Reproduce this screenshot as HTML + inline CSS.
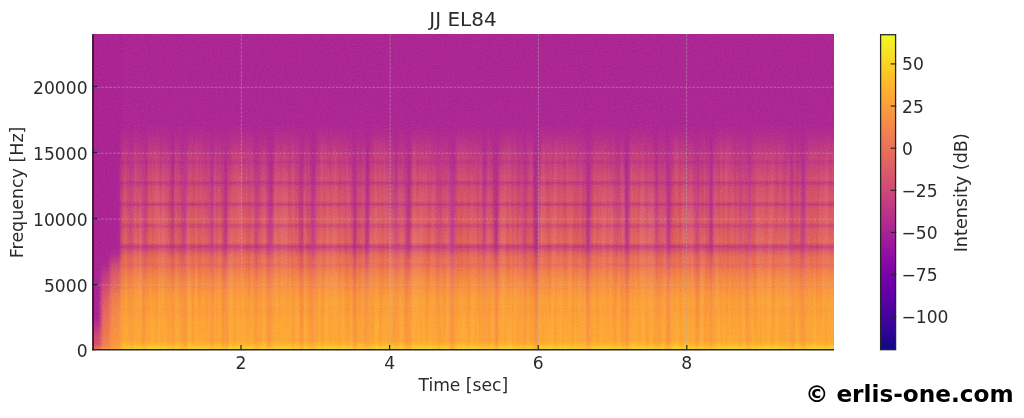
<!DOCTYPE html>
<html lang="en"><head><meta charset="utf-8"><title>JJ EL84</title>
<style>html,body{margin:0;padding:0;background:#fff}body{width:1024px;height:418px;position:relative;overflow:hidden}</style></head>
<body>
<svg width="1024" height="418" viewBox="0 0 1024 418" style="position:absolute;left:0;top:0;font-family:'DejaVu Sans','Liberation Sans',sans-serif">
<defs><linearGradient id="g0" x1="0" y1="0" x2="0" y2="1"><stop offset="0.001582" stop-color="#ab2494"/><stop offset="0.894" stop-color="#ab2494"/><stop offset="0.9256" stop-color="#ba3388"/><stop offset="0.932" stop-color="#bf3984"/><stop offset="0.9383" stop-color="#c13b82"/><stop offset="0.9446" stop-color="#c6417d"/><stop offset="0.9509" stop-color="#c9447a"/><stop offset="0.9573" stop-color="#cd4a76"/><stop offset="0.9636" stop-color="#d04d73"/><stop offset="0.9699" stop-color="#d04d73"/><stop offset="0.9826" stop-color="#d5536f"/><stop offset="0.9953" stop-color="#e87059"/><stop offset="0.9984" stop-color="#ed7a52"/></linearGradient><linearGradient id="g1" x1="0" y1="0" x2="0" y2="1"><stop offset="0.001582" stop-color="#ab2494"/><stop offset="0.894" stop-color="#ab2494"/><stop offset="0.9256" stop-color="#ba3388"/><stop offset="0.932" stop-color="#bf3984"/><stop offset="0.9383" stop-color="#c13b82"/><stop offset="0.9446" stop-color="#c6417d"/><stop offset="0.9509" stop-color="#c9447a"/><stop offset="0.9573" stop-color="#cd4a76"/><stop offset="0.9636" stop-color="#d04d73"/><stop offset="0.9699" stop-color="#d04d73"/><stop offset="0.9826" stop-color="#d5536f"/><stop offset="0.9953" stop-color="#e87059"/><stop offset="0.9984" stop-color="#ed7a52"/></linearGradient><linearGradient id="g2" x1="0" y1="0" x2="0" y2="1"><stop offset="0.001582" stop-color="#ab2494"/><stop offset="0.8877" stop-color="#ab2494"/><stop offset="0.894" stop-color="#ad2793"/><stop offset="0.9003" stop-color="#ad2793"/><stop offset="0.9193" stop-color="#b6308b"/><stop offset="0.9256" stop-color="#bc3587"/><stop offset="0.932" stop-color="#bf3984"/><stop offset="0.9383" stop-color="#c43e7f"/><stop offset="0.9446" stop-color="#c6417d"/><stop offset="0.9509" stop-color="#cc4778"/><stop offset="0.9699" stop-color="#d24f71"/><stop offset="0.9763" stop-color="#d24f71"/><stop offset="0.9826" stop-color="#d5536f"/><stop offset="0.9953" stop-color="#e87059"/><stop offset="0.9984" stop-color="#ed7a52"/></linearGradient><linearGradient id="g3" x1="0" y1="0" x2="0" y2="1"><stop offset="0.001582" stop-color="#ab2494"/><stop offset="0.7674" stop-color="#ab2494"/><stop offset="0.7737" stop-color="#ad2793"/><stop offset="0.8877" stop-color="#ad2793"/><stop offset="0.894" stop-color="#b12a90"/><stop offset="0.9003" stop-color="#b12a90"/><stop offset="0.9193" stop-color="#ba3388"/><stop offset="0.9256" stop-color="#bf3984"/><stop offset="0.9383" stop-color="#c43e7f"/><stop offset="0.9446" stop-color="#c9447a"/><stop offset="0.9509" stop-color="#cc4778"/><stop offset="0.9573" stop-color="#d04d73"/><stop offset="0.9636" stop-color="#d24f71"/><stop offset="0.9699" stop-color="#d24f71"/><stop offset="0.9826" stop-color="#d6556d"/><stop offset="0.9889" stop-color="#df6263"/><stop offset="0.9984" stop-color="#ef7e50"/></linearGradient><linearGradient id="g4" x1="0" y1="0" x2="0" y2="1"><stop offset="0.001582" stop-color="#ab2494"/><stop offset="0.7358" stop-color="#ab2494"/><stop offset="0.7421" stop-color="#ad2793"/><stop offset="0.7674" stop-color="#ad2793"/><stop offset="0.7737" stop-color="#b12a90"/><stop offset="0.8054" stop-color="#b12a90"/><stop offset="0.8117" stop-color="#b32c8e"/><stop offset="0.8434" stop-color="#b32c8e"/><stop offset="0.8497" stop-color="#b6308b"/><stop offset="0.8877" stop-color="#b6308b"/><stop offset="0.894" stop-color="#ba3388"/><stop offset="0.9003" stop-color="#ba3388"/><stop offset="0.932" stop-color="#c6417d"/><stop offset="0.9383" stop-color="#cc4778"/><stop offset="0.9509" stop-color="#d04d73"/><stop offset="0.9573" stop-color="#d5536f"/><stop offset="0.9636" stop-color="#d5536f"/><stop offset="0.9826" stop-color="#da5b69"/><stop offset="0.9889" stop-color="#e3685f"/><stop offset="0.9984" stop-color="#f0804e"/></linearGradient><linearGradient id="g5" x1="0" y1="0" x2="0" y2="1"><stop offset="0.001582" stop-color="#ab2494"/><stop offset="0.7231" stop-color="#ab2494"/><stop offset="0.7294" stop-color="#ad2793"/><stop offset="0.7421" stop-color="#ad2793"/><stop offset="0.7484" stop-color="#b12a90"/><stop offset="0.7547" stop-color="#b12a90"/><stop offset="0.7611" stop-color="#b32c8e"/><stop offset="0.7737" stop-color="#b32c8e"/><stop offset="0.7801" stop-color="#b6308b"/><stop offset="0.7864" stop-color="#b6308b"/><stop offset="0.7927" stop-color="#ba3388"/><stop offset="0.8054" stop-color="#ba3388"/><stop offset="0.8117" stop-color="#bc3587"/><stop offset="0.818" stop-color="#bc3587"/><stop offset="0.8244" stop-color="#bf3984"/><stop offset="0.837" stop-color="#bf3984"/><stop offset="0.8434" stop-color="#c13b82"/><stop offset="0.8687" stop-color="#c13b82"/><stop offset="0.875" stop-color="#c43e7f"/><stop offset="0.8877" stop-color="#c43e7f"/><stop offset="0.894" stop-color="#c6417d"/><stop offset="0.9003" stop-color="#c6417d"/><stop offset="0.9066" stop-color="#c9447a"/><stop offset="0.913" stop-color="#c9447a"/><stop offset="0.9256" stop-color="#cd4a76"/><stop offset="0.932" stop-color="#d24f71"/><stop offset="0.9636" stop-color="#dd5e66"/><stop offset="0.9699" stop-color="#dd5e66"/><stop offset="0.9826" stop-color="#e16462"/><stop offset="0.9889" stop-color="#e76e5b"/><stop offset="0.9984" stop-color="#f2844b"/></linearGradient><linearGradient id="g6" x1="0" y1="0" x2="0" y2="1"><stop offset="0.001582" stop-color="#ab2494"/><stop offset="0.7168" stop-color="#ab2494"/><stop offset="0.7231" stop-color="#ad2793"/><stop offset="0.7294" stop-color="#ad2793"/><stop offset="0.7358" stop-color="#b12a90"/><stop offset="0.7421" stop-color="#b12a90"/><stop offset="0.7547" stop-color="#b6308b"/><stop offset="0.7611" stop-color="#b6308b"/><stop offset="0.7737" stop-color="#bc3587"/><stop offset="0.7801" stop-color="#bc3587"/><stop offset="0.7927" stop-color="#c13b82"/><stop offset="0.7991" stop-color="#c13b82"/><stop offset="0.8117" stop-color="#c6417d"/><stop offset="0.818" stop-color="#c6417d"/><stop offset="0.8307" stop-color="#cc4778"/><stop offset="0.837" stop-color="#cc4778"/><stop offset="0.8434" stop-color="#cd4a76"/><stop offset="0.856" stop-color="#cd4a76"/><stop offset="0.8623" stop-color="#d04d73"/><stop offset="0.875" stop-color="#d04d73"/><stop offset="0.8813" stop-color="#d24f71"/><stop offset="0.8877" stop-color="#d24f71"/><stop offset="0.894" stop-color="#d5536f"/><stop offset="0.9003" stop-color="#d5536f"/><stop offset="0.9066" stop-color="#d6556d"/><stop offset="0.913" stop-color="#d6556d"/><stop offset="0.932" stop-color="#dd5e66"/><stop offset="0.9383" stop-color="#dd5e66"/><stop offset="0.9636" stop-color="#e56a5d"/><stop offset="0.9699" stop-color="#e56a5d"/><stop offset="0.9826" stop-color="#e87059"/><stop offset="0.9889" stop-color="#eb7655"/><stop offset="0.9984" stop-color="#f58b47"/></linearGradient><linearGradient id="g7" x1="0" y1="0" x2="0" y2="1"><stop offset="0.001582" stop-color="#ab2494"/><stop offset="0.7168" stop-color="#ab2494"/><stop offset="0.7231" stop-color="#ad2793"/><stop offset="0.7294" stop-color="#ad2793"/><stop offset="0.7674" stop-color="#bf3984"/><stop offset="0.7737" stop-color="#c13b82"/><stop offset="0.7801" stop-color="#c13b82"/><stop offset="0.818" stop-color="#d04d73"/><stop offset="0.8244" stop-color="#d24f71"/><stop offset="0.8307" stop-color="#d24f71"/><stop offset="0.8434" stop-color="#d6556d"/><stop offset="0.8497" stop-color="#d6556d"/><stop offset="0.856" stop-color="#d9586a"/><stop offset="0.8623" stop-color="#d9586a"/><stop offset="0.8687" stop-color="#da5b69"/><stop offset="0.875" stop-color="#da5b69"/><stop offset="0.8813" stop-color="#dd5e66"/><stop offset="0.8877" stop-color="#dd5e66"/><stop offset="0.894" stop-color="#df6263"/><stop offset="0.9003" stop-color="#df6263"/><stop offset="0.9066" stop-color="#e16462"/><stop offset="0.913" stop-color="#e16462"/><stop offset="0.9193" stop-color="#e3685f"/><stop offset="0.9256" stop-color="#e3685f"/><stop offset="0.932" stop-color="#e56a5d"/><stop offset="0.9383" stop-color="#e56a5d"/><stop offset="0.9509" stop-color="#e87059"/><stop offset="0.9573" stop-color="#e87059"/><stop offset="0.9699" stop-color="#eb7655"/><stop offset="0.9763" stop-color="#eb7655"/><stop offset="0.9826" stop-color="#ed7a52"/><stop offset="0.9889" stop-color="#f0804e"/><stop offset="0.9984" stop-color="#f79143"/></linearGradient><linearGradient id="g8" x1="0" y1="0" x2="0" y2="1"><stop offset="0.001582" stop-color="#ab2494"/><stop offset="0.7104" stop-color="#ab2494"/><stop offset="0.7168" stop-color="#ad2793"/><stop offset="0.7231" stop-color="#ad2793"/><stop offset="0.7611" stop-color="#bf3984"/><stop offset="0.7991" stop-color="#cd4a76"/><stop offset="0.8307" stop-color="#d9586a"/><stop offset="0.837" stop-color="#d9586a"/><stop offset="0.8434" stop-color="#da5b69"/><stop offset="0.8497" stop-color="#da5b69"/><stop offset="0.8623" stop-color="#df6263"/><stop offset="0.8687" stop-color="#df6263"/><stop offset="0.875" stop-color="#e16462"/><stop offset="0.8813" stop-color="#e16462"/><stop offset="0.894" stop-color="#e56a5d"/><stop offset="0.9066" stop-color="#e56a5d"/><stop offset="0.913" stop-color="#e76e5b"/><stop offset="0.9193" stop-color="#e76e5b"/><stop offset="0.9256" stop-color="#e87059"/><stop offset="0.932" stop-color="#e87059"/><stop offset="0.9383" stop-color="#ea7457"/><stop offset="0.9446" stop-color="#ea7457"/><stop offset="0.9509" stop-color="#eb7655"/><stop offset="0.9573" stop-color="#eb7655"/><stop offset="0.9636" stop-color="#ed7a52"/><stop offset="0.9699" stop-color="#ed7a52"/><stop offset="0.9889" stop-color="#f2844b"/><stop offset="0.9984" stop-color="#f89540"/></linearGradient><linearGradient id="g9" x1="0" y1="0" x2="0" y2="1"><stop offset="0.001582" stop-color="#ab2494"/><stop offset="0.7104" stop-color="#ab2494"/><stop offset="0.7168" stop-color="#ad2793"/><stop offset="0.7231" stop-color="#ad2793"/><stop offset="0.7611" stop-color="#bf3984"/><stop offset="0.7991" stop-color="#cd4a76"/><stop offset="0.837" stop-color="#da5b69"/><stop offset="0.8434" stop-color="#dd5e66"/><stop offset="0.8497" stop-color="#dd5e66"/><stop offset="0.8623" stop-color="#e16462"/><stop offset="0.8687" stop-color="#e16462"/><stop offset="0.875" stop-color="#e3685f"/><stop offset="0.8813" stop-color="#e3685f"/><stop offset="0.894" stop-color="#e76e5b"/><stop offset="0.9066" stop-color="#e76e5b"/><stop offset="0.913" stop-color="#e87059"/><stop offset="0.9193" stop-color="#e87059"/><stop offset="0.9256" stop-color="#ea7457"/><stop offset="0.932" stop-color="#ea7457"/><stop offset="0.9383" stop-color="#eb7655"/><stop offset="0.9509" stop-color="#eb7655"/><stop offset="0.9573" stop-color="#ed7a52"/><stop offset="0.9636" stop-color="#ed7a52"/><stop offset="0.9763" stop-color="#f0804e"/><stop offset="0.9826" stop-color="#f0804e"/><stop offset="0.9889" stop-color="#f3874a"/><stop offset="0.9984" stop-color="#f89540"/></linearGradient><linearGradient id="g10" x1="0" y1="0" x2="0" y2="1"><stop offset="0.001582" stop-color="#ab2494"/><stop offset="0.7104" stop-color="#ab2494"/><stop offset="0.7168" stop-color="#ad2793"/><stop offset="0.7231" stop-color="#ad2793"/><stop offset="0.7611" stop-color="#bf3984"/><stop offset="0.7991" stop-color="#cd4a76"/><stop offset="0.8117" stop-color="#d24f71"/><stop offset="0.818" stop-color="#d6556d"/><stop offset="0.8307" stop-color="#da5b69"/><stop offset="0.837" stop-color="#da5b69"/><stop offset="0.8497" stop-color="#df6263"/><stop offset="0.856" stop-color="#df6263"/><stop offset="0.8623" stop-color="#e16462"/><stop offset="0.8687" stop-color="#e16462"/><stop offset="0.8813" stop-color="#e56a5d"/><stop offset="0.8877" stop-color="#e56a5d"/><stop offset="0.894" stop-color="#e76e5b"/><stop offset="0.9003" stop-color="#e76e5b"/><stop offset="0.9066" stop-color="#e87059"/><stop offset="0.913" stop-color="#e87059"/><stop offset="0.9193" stop-color="#ea7457"/><stop offset="0.932" stop-color="#ea7457"/><stop offset="0.9383" stop-color="#eb7655"/><stop offset="0.9446" stop-color="#eb7655"/><stop offset="0.9509" stop-color="#ed7a52"/><stop offset="0.9573" stop-color="#ed7a52"/><stop offset="0.9636" stop-color="#ef7e50"/><stop offset="0.9699" stop-color="#ef7e50"/><stop offset="0.9889" stop-color="#f3874a"/><stop offset="0.9984" stop-color="#f9983e"/></linearGradient><linearGradient id="g11" x1="0" y1="0" x2="0" y2="1"><stop offset="0.001582" stop-color="#ab2494"/><stop offset="0.7104" stop-color="#ab2494"/><stop offset="0.7168" stop-color="#ad2793"/><stop offset="0.7231" stop-color="#ad2793"/><stop offset="0.7611" stop-color="#bf3984"/><stop offset="0.7991" stop-color="#cd4a76"/><stop offset="0.8054" stop-color="#d24f71"/><stop offset="0.837" stop-color="#dd5e66"/><stop offset="0.8434" stop-color="#dd5e66"/><stop offset="0.8497" stop-color="#df6263"/><stop offset="0.856" stop-color="#df6263"/><stop offset="0.8687" stop-color="#e3685f"/><stop offset="0.875" stop-color="#e3685f"/><stop offset="0.8813" stop-color="#e56a5d"/><stop offset="0.8877" stop-color="#e56a5d"/><stop offset="0.894" stop-color="#e76e5b"/><stop offset="0.9003" stop-color="#e76e5b"/><stop offset="0.9066" stop-color="#e87059"/><stop offset="0.913" stop-color="#e87059"/><stop offset="0.9193" stop-color="#ea7457"/><stop offset="0.932" stop-color="#ea7457"/><stop offset="0.9383" stop-color="#eb7655"/><stop offset="0.9446" stop-color="#eb7655"/><stop offset="0.9509" stop-color="#ed7a52"/><stop offset="0.9573" stop-color="#ed7a52"/><stop offset="0.9636" stop-color="#ef7e50"/><stop offset="0.9699" stop-color="#ef7e50"/><stop offset="0.9889" stop-color="#f3874a"/><stop offset="0.9984" stop-color="#f9983e"/></linearGradient><linearGradient id="g12" x1="0" y1="0" x2="0" y2="1"><stop offset="0.001582" stop-color="#ab2494"/><stop offset="0.7041" stop-color="#ab2494"/><stop offset="0.7104" stop-color="#ad2793"/><stop offset="0.7231" stop-color="#ad2793"/><stop offset="0.7421" stop-color="#b6308b"/><stop offset="0.7484" stop-color="#bc3587"/><stop offset="0.7864" stop-color="#cc4778"/><stop offset="0.8244" stop-color="#d9586a"/><stop offset="0.8434" stop-color="#df6263"/><stop offset="0.8497" stop-color="#df6263"/><stop offset="0.856" stop-color="#e16462"/><stop offset="0.8623" stop-color="#e16462"/><stop offset="0.875" stop-color="#e56a5d"/><stop offset="0.8813" stop-color="#e56a5d"/><stop offset="0.8877" stop-color="#e76e5b"/><stop offset="0.894" stop-color="#e76e5b"/><stop offset="0.9003" stop-color="#e87059"/><stop offset="0.9066" stop-color="#e87059"/><stop offset="0.913" stop-color="#ea7457"/><stop offset="0.9256" stop-color="#ea7457"/><stop offset="0.932" stop-color="#eb7655"/><stop offset="0.9383" stop-color="#eb7655"/><stop offset="0.9446" stop-color="#ed7a52"/><stop offset="0.9573" stop-color="#ed7a52"/><stop offset="0.9699" stop-color="#f0804e"/><stop offset="0.9763" stop-color="#f0804e"/><stop offset="0.9889" stop-color="#f3874a"/><stop offset="0.9984" stop-color="#f9983e"/></linearGradient><linearGradient id="g13" x1="0" y1="0" x2="0" y2="1"><stop offset="0.001582" stop-color="#ab2494"/><stop offset="0.6978" stop-color="#ab2494"/><stop offset="0.7041" stop-color="#ad2793"/><stop offset="0.7104" stop-color="#ad2793"/><stop offset="0.7484" stop-color="#bf3984"/><stop offset="0.7864" stop-color="#cd4a76"/><stop offset="0.8244" stop-color="#da5b69"/><stop offset="0.8307" stop-color="#df6263"/><stop offset="0.837" stop-color="#df6263"/><stop offset="0.8434" stop-color="#e16462"/><stop offset="0.8497" stop-color="#e16462"/><stop offset="0.8623" stop-color="#e56a5d"/><stop offset="0.8687" stop-color="#e56a5d"/><stop offset="0.875" stop-color="#e76e5b"/><stop offset="0.8813" stop-color="#e76e5b"/><stop offset="0.8877" stop-color="#e87059"/><stop offset="0.894" stop-color="#e87059"/><stop offset="0.9003" stop-color="#ea7457"/><stop offset="0.9066" stop-color="#ea7457"/><stop offset="0.913" stop-color="#eb7655"/><stop offset="0.9256" stop-color="#eb7655"/><stop offset="0.932" stop-color="#ed7a52"/><stop offset="0.9446" stop-color="#ed7a52"/><stop offset="0.9509" stop-color="#ef7e50"/><stop offset="0.9573" stop-color="#ef7e50"/><stop offset="0.9636" stop-color="#f0804e"/><stop offset="0.9699" stop-color="#f0804e"/><stop offset="0.9889" stop-color="#f58b47"/><stop offset="0.9984" stop-color="#f9983e"/></linearGradient><linearGradient id="g14" x1="0" y1="0" x2="0" y2="1"><stop offset="0.001582" stop-color="#ab2494"/><stop offset="0.6915" stop-color="#ab2494"/><stop offset="0.7294" stop-color="#bc3587"/><stop offset="0.7421" stop-color="#c13b82"/><stop offset="0.7484" stop-color="#c6417d"/><stop offset="0.7737" stop-color="#d04d73"/><stop offset="0.7801" stop-color="#d04d73"/><stop offset="0.7991" stop-color="#d6556d"/><stop offset="0.8054" stop-color="#da5b69"/><stop offset="0.8307" stop-color="#e3685f"/><stop offset="0.837" stop-color="#e3685f"/><stop offset="0.8497" stop-color="#e76e5b"/><stop offset="0.856" stop-color="#e76e5b"/><stop offset="0.8623" stop-color="#e87059"/><stop offset="0.8687" stop-color="#e87059"/><stop offset="0.875" stop-color="#ea7457"/><stop offset="0.8813" stop-color="#ea7457"/><stop offset="0.8877" stop-color="#eb7655"/><stop offset="0.894" stop-color="#eb7655"/><stop offset="0.9003" stop-color="#ed7a52"/><stop offset="0.913" stop-color="#ed7a52"/><stop offset="0.9193" stop-color="#ef7e50"/><stop offset="0.932" stop-color="#ef7e50"/><stop offset="0.9383" stop-color="#f0804e"/><stop offset="0.9509" stop-color="#f0804e"/><stop offset="0.9573" stop-color="#f2844b"/><stop offset="0.9636" stop-color="#f2844b"/><stop offset="0.9699" stop-color="#f3874a"/><stop offset="0.9763" stop-color="#f3874a"/><stop offset="0.9889" stop-color="#f68d45"/><stop offset="0.9984" stop-color="#fa9c3c"/></linearGradient><linearGradient id="g15" x1="0" y1="0" x2="0" y2="1"><stop offset="0.001582" stop-color="#ab2494"/><stop offset="0.6788" stop-color="#ab2494"/><stop offset="0.6851" stop-color="#ad2793"/><stop offset="0.6915" stop-color="#ad2793"/><stop offset="0.7104" stop-color="#b6308b"/><stop offset="0.7168" stop-color="#bc3587"/><stop offset="0.7231" stop-color="#bf3984"/><stop offset="0.7294" stop-color="#c43e7f"/><stop offset="0.7421" stop-color="#c9447a"/><stop offset="0.7484" stop-color="#cd4a76"/><stop offset="0.7674" stop-color="#d5536f"/><stop offset="0.7737" stop-color="#d5536f"/><stop offset="0.8117" stop-color="#e16462"/><stop offset="0.8244" stop-color="#e56a5d"/><stop offset="0.8307" stop-color="#e87059"/><stop offset="0.837" stop-color="#e87059"/><stop offset="0.8434" stop-color="#ea7457"/><stop offset="0.8497" stop-color="#ea7457"/><stop offset="0.856" stop-color="#eb7655"/><stop offset="0.8623" stop-color="#eb7655"/><stop offset="0.8687" stop-color="#ed7a52"/><stop offset="0.8813" stop-color="#ed7a52"/><stop offset="0.8877" stop-color="#ef7e50"/><stop offset="0.894" stop-color="#ef7e50"/><stop offset="0.9003" stop-color="#f0804e"/><stop offset="0.9066" stop-color="#f0804e"/><stop offset="0.913" stop-color="#f2844b"/><stop offset="0.932" stop-color="#f2844b"/><stop offset="0.9383" stop-color="#f3874a"/><stop offset="0.9509" stop-color="#f3874a"/><stop offset="0.9573" stop-color="#f58b47"/><stop offset="0.9699" stop-color="#f58b47"/><stop offset="0.9889" stop-color="#f89540"/><stop offset="0.9984" stop-color="#fb9f3a"/></linearGradient><linearGradient id="g16" x1="0" y1="0" x2="0" y2="1"><stop offset="0.001582" stop-color="#ab2494"/><stop offset="0.6788" stop-color="#ab2494"/><stop offset="0.6851" stop-color="#ad2793"/><stop offset="0.6915" stop-color="#ad2793"/><stop offset="0.6978" stop-color="#b12a90"/><stop offset="0.7168" stop-color="#c13b82"/><stop offset="0.7231" stop-color="#c43e7f"/><stop offset="0.7294" stop-color="#c9447a"/><stop offset="0.7358" stop-color="#cc4778"/><stop offset="0.7484" stop-color="#d5536f"/><stop offset="0.7547" stop-color="#d5536f"/><stop offset="0.7864" stop-color="#df6263"/><stop offset="0.7927" stop-color="#df6263"/><stop offset="0.7991" stop-color="#e16462"/><stop offset="0.8054" stop-color="#e56a5d"/><stop offset="0.8307" stop-color="#eb7655"/><stop offset="0.837" stop-color="#eb7655"/><stop offset="0.8434" stop-color="#ed7a52"/><stop offset="0.8497" stop-color="#ed7a52"/><stop offset="0.856" stop-color="#ef7e50"/><stop offset="0.8623" stop-color="#ef7e50"/><stop offset="0.8687" stop-color="#f0804e"/><stop offset="0.8813" stop-color="#f0804e"/><stop offset="0.8877" stop-color="#f2844b"/><stop offset="0.894" stop-color="#f2844b"/><stop offset="0.9003" stop-color="#f3874a"/><stop offset="0.913" stop-color="#f3874a"/><stop offset="0.9193" stop-color="#f58b47"/><stop offset="0.9383" stop-color="#f58b47"/><stop offset="0.9446" stop-color="#f68d45"/><stop offset="0.9636" stop-color="#f68d45"/><stop offset="0.9699" stop-color="#f79143"/><stop offset="0.9763" stop-color="#f79143"/><stop offset="0.9889" stop-color="#f9983e"/><stop offset="0.9984" stop-color="#fca338"/></linearGradient><linearGradient id="g17" x1="0" y1="0" x2="0" y2="1"><stop offset="0.001582" stop-color="#ab2494"/><stop offset="0.6725" stop-color="#ab2494"/><stop offset="0.6788" stop-color="#ad2793"/><stop offset="0.6851" stop-color="#ad2793"/><stop offset="0.6978" stop-color="#b32c8e"/><stop offset="0.7168" stop-color="#c43e7f"/><stop offset="0.7231" stop-color="#c6417d"/><stop offset="0.7358" stop-color="#d04d73"/><stop offset="0.7421" stop-color="#d24f71"/><stop offset="0.7484" stop-color="#d6556d"/><stop offset="0.7611" stop-color="#da5b69"/><stop offset="0.7674" stop-color="#da5b69"/><stop offset="0.8054" stop-color="#e76e5b"/><stop offset="0.837" stop-color="#ef7e50"/><stop offset="0.8497" stop-color="#ef7e50"/><stop offset="0.856" stop-color="#f0804e"/><stop offset="0.8623" stop-color="#f0804e"/><stop offset="0.8687" stop-color="#f2844b"/><stop offset="0.8813" stop-color="#f2844b"/><stop offset="0.8877" stop-color="#f3874a"/><stop offset="0.894" stop-color="#f3874a"/><stop offset="0.9003" stop-color="#f58b47"/><stop offset="0.913" stop-color="#f58b47"/><stop offset="0.9193" stop-color="#f68d45"/><stop offset="0.9446" stop-color="#f68d45"/><stop offset="0.9509" stop-color="#f79143"/><stop offset="0.9699" stop-color="#f79143"/><stop offset="0.9889" stop-color="#fa9c3c"/><stop offset="0.9984" stop-color="#fca636"/></linearGradient><linearGradient id="g18" x1="0" y1="0" x2="0" y2="1"><stop offset="0.001582" stop-color="#ab2494"/><stop offset="0.6725" stop-color="#ab2494"/><stop offset="0.6788" stop-color="#ad2793"/><stop offset="0.6851" stop-color="#ad2793"/><stop offset="0.6978" stop-color="#b32c8e"/><stop offset="0.7231" stop-color="#c9447a"/><stop offset="0.7294" stop-color="#cc4778"/><stop offset="0.7484" stop-color="#d9586a"/><stop offset="0.7547" stop-color="#d9586a"/><stop offset="0.7801" stop-color="#e16462"/><stop offset="0.7864" stop-color="#e16462"/><stop offset="0.8244" stop-color="#eb7655"/><stop offset="0.8307" stop-color="#ef7e50"/><stop offset="0.8434" stop-color="#ef7e50"/><stop offset="0.8497" stop-color="#f0804e"/><stop offset="0.856" stop-color="#f0804e"/><stop offset="0.8623" stop-color="#f2844b"/><stop offset="0.875" stop-color="#f2844b"/><stop offset="0.8813" stop-color="#f3874a"/><stop offset="0.8877" stop-color="#f3874a"/><stop offset="0.894" stop-color="#f58b47"/><stop offset="0.9066" stop-color="#f58b47"/><stop offset="0.913" stop-color="#f68d45"/><stop offset="0.932" stop-color="#f68d45"/><stop offset="0.9383" stop-color="#f79143"/><stop offset="0.9636" stop-color="#f79143"/><stop offset="0.9699" stop-color="#f89540"/><stop offset="0.9763" stop-color="#f89540"/><stop offset="0.9889" stop-color="#fa9c3c"/><stop offset="0.9984" stop-color="#fca636"/></linearGradient><linearGradient id="g19" x1="0" y1="0" x2="0" y2="1"><stop offset="0.001582" stop-color="#ab2494"/><stop offset="0.6725" stop-color="#ab2494"/><stop offset="0.6788" stop-color="#ad2793"/><stop offset="0.6851" stop-color="#ad2793"/><stop offset="0.6978" stop-color="#b32c8e"/><stop offset="0.7294" stop-color="#cd4a76"/><stop offset="0.7358" stop-color="#d04d73"/><stop offset="0.7484" stop-color="#d9586a"/><stop offset="0.7547" stop-color="#da5b69"/><stop offset="0.7611" stop-color="#da5b69"/><stop offset="0.7801" stop-color="#e16462"/><stop offset="0.7864" stop-color="#e16462"/><stop offset="0.818" stop-color="#ea7457"/><stop offset="0.8244" stop-color="#ed7a52"/><stop offset="0.8307" stop-color="#ef7e50"/><stop offset="0.837" stop-color="#ef7e50"/><stop offset="0.8434" stop-color="#f0804e"/><stop offset="0.856" stop-color="#f0804e"/><stop offset="0.8623" stop-color="#f2844b"/><stop offset="0.8687" stop-color="#f2844b"/><stop offset="0.875" stop-color="#f3874a"/><stop offset="0.8877" stop-color="#f3874a"/><stop offset="0.894" stop-color="#f58b47"/><stop offset="0.9066" stop-color="#f58b47"/><stop offset="0.913" stop-color="#f68d45"/><stop offset="0.932" stop-color="#f68d45"/><stop offset="0.9383" stop-color="#f79143"/><stop offset="0.9573" stop-color="#f79143"/><stop offset="0.9636" stop-color="#f89540"/><stop offset="0.9763" stop-color="#f89540"/><stop offset="0.9889" stop-color="#fa9c3c"/><stop offset="0.9984" stop-color="#fca636"/></linearGradient><linearGradient id="g20" x1="0" y1="0" x2="0" y2="1"><stop offset="0.001582" stop-color="#ab2494"/><stop offset="0.6725" stop-color="#ab2494"/><stop offset="0.6788" stop-color="#ad2793"/><stop offset="0.6851" stop-color="#ad2793"/><stop offset="0.6978" stop-color="#b32c8e"/><stop offset="0.7294" stop-color="#cd4a76"/><stop offset="0.7358" stop-color="#d04d73"/><stop offset="0.7484" stop-color="#d9586a"/><stop offset="0.7547" stop-color="#da5b69"/><stop offset="0.7611" stop-color="#da5b69"/><stop offset="0.7801" stop-color="#e16462"/><stop offset="0.7864" stop-color="#e16462"/><stop offset="0.8117" stop-color="#e87059"/><stop offset="0.818" stop-color="#eb7655"/><stop offset="0.8307" stop-color="#ef7e50"/><stop offset="0.837" stop-color="#ef7e50"/><stop offset="0.8434" stop-color="#f0804e"/><stop offset="0.856" stop-color="#f0804e"/><stop offset="0.8623" stop-color="#f2844b"/><stop offset="0.8687" stop-color="#f2844b"/><stop offset="0.875" stop-color="#f3874a"/><stop offset="0.8877" stop-color="#f3874a"/><stop offset="0.894" stop-color="#f58b47"/><stop offset="0.9066" stop-color="#f58b47"/><stop offset="0.913" stop-color="#f68d45"/><stop offset="0.9256" stop-color="#f68d45"/><stop offset="0.932" stop-color="#f79143"/><stop offset="0.9573" stop-color="#f79143"/><stop offset="0.9636" stop-color="#f89540"/><stop offset="0.9763" stop-color="#f89540"/><stop offset="0.9889" stop-color="#fa9c3c"/><stop offset="0.9984" stop-color="#fca636"/></linearGradient><linearGradient id="g21" x1="0" y1="0" x2="0" y2="1"><stop offset="0.001582" stop-color="#ab2494"/><stop offset="0.6725" stop-color="#ab2494"/><stop offset="0.6788" stop-color="#ad2793"/><stop offset="0.6851" stop-color="#ad2793"/><stop offset="0.6978" stop-color="#b32c8e"/><stop offset="0.7294" stop-color="#cd4a76"/><stop offset="0.7358" stop-color="#d04d73"/><stop offset="0.7484" stop-color="#d9586a"/><stop offset="0.7547" stop-color="#da5b69"/><stop offset="0.7611" stop-color="#da5b69"/><stop offset="0.7801" stop-color="#e16462"/><stop offset="0.7864" stop-color="#e16462"/><stop offset="0.8117" stop-color="#e87059"/><stop offset="0.818" stop-color="#eb7655"/><stop offset="0.8307" stop-color="#ef7e50"/><stop offset="0.837" stop-color="#ef7e50"/><stop offset="0.8434" stop-color="#f0804e"/><stop offset="0.856" stop-color="#f0804e"/><stop offset="0.8623" stop-color="#f2844b"/><stop offset="0.8687" stop-color="#f2844b"/><stop offset="0.875" stop-color="#f3874a"/><stop offset="0.8877" stop-color="#f3874a"/><stop offset="0.894" stop-color="#f58b47"/><stop offset="0.9066" stop-color="#f58b47"/><stop offset="0.913" stop-color="#f68d45"/><stop offset="0.9256" stop-color="#f68d45"/><stop offset="0.932" stop-color="#f79143"/><stop offset="0.9573" stop-color="#f79143"/><stop offset="0.9636" stop-color="#f89540"/><stop offset="0.9763" stop-color="#f89540"/><stop offset="0.9826" stop-color="#f9983e"/><stop offset="0.9889" stop-color="#fb9f3a"/><stop offset="0.9984" stop-color="#fca636"/></linearGradient><linearGradient id="g22" x1="0" y1="0" x2="0" y2="1"><stop offset="0.001582" stop-color="#ab2494"/><stop offset="0.6725" stop-color="#ab2494"/><stop offset="0.6788" stop-color="#ad2793"/><stop offset="0.6851" stop-color="#ad2793"/><stop offset="0.6978" stop-color="#b32c8e"/><stop offset="0.7294" stop-color="#cd4a76"/><stop offset="0.7358" stop-color="#d04d73"/><stop offset="0.7484" stop-color="#d9586a"/><stop offset="0.7611" stop-color="#dd5e66"/><stop offset="0.7674" stop-color="#dd5e66"/><stop offset="0.7864" stop-color="#e3685f"/><stop offset="0.7927" stop-color="#e3685f"/><stop offset="0.7991" stop-color="#e56a5d"/><stop offset="0.8054" stop-color="#e87059"/><stop offset="0.8307" stop-color="#ef7e50"/><stop offset="0.837" stop-color="#ef7e50"/><stop offset="0.8434" stop-color="#f0804e"/><stop offset="0.8497" stop-color="#f0804e"/><stop offset="0.856" stop-color="#f2844b"/><stop offset="0.8687" stop-color="#f2844b"/><stop offset="0.875" stop-color="#f3874a"/><stop offset="0.8877" stop-color="#f3874a"/><stop offset="0.894" stop-color="#f58b47"/><stop offset="0.9003" stop-color="#f58b47"/><stop offset="0.9066" stop-color="#f68d45"/><stop offset="0.9256" stop-color="#f68d45"/><stop offset="0.932" stop-color="#f79143"/><stop offset="0.9573" stop-color="#f79143"/><stop offset="0.9636" stop-color="#f89540"/><stop offset="0.9763" stop-color="#f89540"/><stop offset="0.9826" stop-color="#f9983e"/><stop offset="0.9889" stop-color="#fb9f3a"/><stop offset="0.9984" stop-color="#fca636"/></linearGradient><linearGradient id="g23" x1="0" y1="0" x2="0" y2="1"><stop offset="0.001582" stop-color="#ab2494"/><stop offset="0.4446" stop-color="#ab2494"/><stop offset="0.4509" stop-color="#ad2793"/><stop offset="0.4573" stop-color="#ad2793"/><stop offset="0.4636" stop-color="#ab2494"/><stop offset="0.4826" stop-color="#ab2494"/><stop offset="0.4889" stop-color="#ad2793"/><stop offset="0.5269" stop-color="#ad2793"/><stop offset="0.5332" stop-color="#ab2494"/><stop offset="0.5396" stop-color="#ab2494"/><stop offset="0.5459" stop-color="#ad2793"/><stop offset="0.5965" stop-color="#ad2793"/><stop offset="0.6028" stop-color="#ab2494"/><stop offset="0.6092" stop-color="#ab2494"/><stop offset="0.6155" stop-color="#ad2793"/><stop offset="0.6598" stop-color="#ad2793"/><stop offset="0.6661" stop-color="#ab2494"/><stop offset="0.6725" stop-color="#ad2793"/><stop offset="0.6788" stop-color="#ad2793"/><stop offset="0.6978" stop-color="#b6308b"/><stop offset="0.7231" stop-color="#cc4778"/><stop offset="0.7294" stop-color="#cd4a76"/><stop offset="0.7421" stop-color="#d6556d"/><stop offset="0.7737" stop-color="#e16462"/><stop offset="0.7801" stop-color="#e16462"/><stop offset="0.818" stop-color="#eb7655"/><stop offset="0.837" stop-color="#f0804e"/><stop offset="0.8434" stop-color="#f0804e"/><stop offset="0.8497" stop-color="#f2844b"/><stop offset="0.8623" stop-color="#f2844b"/><stop offset="0.8687" stop-color="#f3874a"/><stop offset="0.8813" stop-color="#f3874a"/><stop offset="0.8877" stop-color="#f58b47"/><stop offset="0.9003" stop-color="#f58b47"/><stop offset="0.9066" stop-color="#f68d45"/><stop offset="0.9193" stop-color="#f68d45"/><stop offset="0.9256" stop-color="#f79143"/><stop offset="0.9509" stop-color="#f79143"/><stop offset="0.9573" stop-color="#f89540"/><stop offset="0.9763" stop-color="#f89540"/><stop offset="0.9826" stop-color="#f9983e"/><stop offset="0.9953" stop-color="#fca636"/><stop offset="0.9984" stop-color="#fca636"/></linearGradient><linearGradient id="g24" x1="0" y1="0" x2="0" y2="1"><stop offset="0.001582" stop-color="#ab2494"/><stop offset="0.3244" stop-color="#ab2494"/><stop offset="0.3307" stop-color="#ad2793"/><stop offset="0.413" stop-color="#ad2793"/><stop offset="0.4193" stop-color="#b12a90"/><stop offset="0.4636" stop-color="#b12a90"/><stop offset="0.4699" stop-color="#ad2793"/><stop offset="0.4763" stop-color="#b12a90"/><stop offset="0.5079" stop-color="#b12a90"/><stop offset="0.5142" stop-color="#b32c8e"/><stop offset="0.5269" stop-color="#b32c8e"/><stop offset="0.5396" stop-color="#ad2793"/><stop offset="0.5522" stop-color="#b32c8e"/><stop offset="0.5965" stop-color="#b32c8e"/><stop offset="0.6028" stop-color="#b12a90"/><stop offset="0.6092" stop-color="#b12a90"/><stop offset="0.6155" stop-color="#b32c8e"/><stop offset="0.6598" stop-color="#b32c8e"/><stop offset="0.6661" stop-color="#b12a90"/><stop offset="0.6725" stop-color="#b12a90"/><stop offset="0.6978" stop-color="#bc3587"/><stop offset="0.7231" stop-color="#d04d73"/><stop offset="0.7358" stop-color="#d5536f"/><stop offset="0.7484" stop-color="#dd5e66"/><stop offset="0.7611" stop-color="#e16462"/><stop offset="0.7674" stop-color="#e16462"/><stop offset="0.7864" stop-color="#e76e5b"/><stop offset="0.7927" stop-color="#e76e5b"/><stop offset="0.8307" stop-color="#f0804e"/><stop offset="0.837" stop-color="#f2844b"/><stop offset="0.8434" stop-color="#f2844b"/><stop offset="0.8497" stop-color="#f3874a"/><stop offset="0.8687" stop-color="#f3874a"/><stop offset="0.875" stop-color="#f58b47"/><stop offset="0.8813" stop-color="#f58b47"/><stop offset="0.8877" stop-color="#f68d45"/><stop offset="0.9003" stop-color="#f68d45"/><stop offset="0.9066" stop-color="#f79143"/><stop offset="0.9256" stop-color="#f79143"/><stop offset="0.932" stop-color="#f89540"/><stop offset="0.9636" stop-color="#f89540"/><stop offset="0.9699" stop-color="#f9983e"/><stop offset="0.9763" stop-color="#f9983e"/><stop offset="0.9826" stop-color="#fa9c3c"/><stop offset="0.9984" stop-color="#fdae32"/></linearGradient><linearGradient id="g25" x1="0" y1="0" x2="0" y2="1"><stop offset="0.001582" stop-color="#ab2494"/><stop offset="0.2991" stop-color="#ab2494"/><stop offset="0.3054" stop-color="#ad2793"/><stop offset="0.337" stop-color="#ad2793"/><stop offset="0.3434" stop-color="#b12a90"/><stop offset="0.3687" stop-color="#b12a90"/><stop offset="0.375" stop-color="#b32c8e"/><stop offset="0.4003" stop-color="#b32c8e"/><stop offset="0.4066" stop-color="#b12a90"/><stop offset="0.4193" stop-color="#b6308b"/><stop offset="0.4383" stop-color="#b6308b"/><stop offset="0.4446" stop-color="#ba3388"/><stop offset="0.4636" stop-color="#ba3388"/><stop offset="0.4699" stop-color="#b12a90"/><stop offset="0.4763" stop-color="#b6308b"/><stop offset="0.4826" stop-color="#ba3388"/><stop offset="0.4953" stop-color="#ba3388"/><stop offset="0.5016" stop-color="#bc3587"/><stop offset="0.5269" stop-color="#bc3587"/><stop offset="0.5332" stop-color="#ba3388"/><stop offset="0.5396" stop-color="#b32c8e"/><stop offset="0.5459" stop-color="#ba3388"/><stop offset="0.5522" stop-color="#bc3587"/><stop offset="0.5649" stop-color="#bc3587"/><stop offset="0.5712" stop-color="#bf3984"/><stop offset="0.5965" stop-color="#bf3984"/><stop offset="0.6028" stop-color="#ba3388"/><stop offset="0.6092" stop-color="#ba3388"/><stop offset="0.6155" stop-color="#bf3984"/><stop offset="0.6282" stop-color="#bf3984"/><stop offset="0.6345" stop-color="#c13b82"/><stop offset="0.6598" stop-color="#c13b82"/><stop offset="0.6661" stop-color="#bc3587"/><stop offset="0.6725" stop-color="#b32c8e"/><stop offset="0.6788" stop-color="#bc3587"/><stop offset="0.6851" stop-color="#bf3984"/><stop offset="0.6978" stop-color="#c9447a"/><stop offset="0.7041" stop-color="#cc4778"/><stop offset="0.7168" stop-color="#d5536f"/><stop offset="0.7231" stop-color="#d6556d"/><stop offset="0.7294" stop-color="#d6556d"/><stop offset="0.7421" stop-color="#df6263"/><stop offset="0.7801" stop-color="#ea7457"/><stop offset="0.7864" stop-color="#ea7457"/><stop offset="0.7927" stop-color="#eb7655"/><stop offset="0.7991" stop-color="#eb7655"/><stop offset="0.8054" stop-color="#ed7a52"/><stop offset="0.8117" stop-color="#f0804e"/><stop offset="0.818" stop-color="#f2844b"/><stop offset="0.8244" stop-color="#f2844b"/><stop offset="0.837" stop-color="#f58b47"/><stop offset="0.8434" stop-color="#f58b47"/><stop offset="0.8497" stop-color="#f68d45"/><stop offset="0.8687" stop-color="#f68d45"/><stop offset="0.875" stop-color="#f79143"/><stop offset="0.8877" stop-color="#f79143"/><stop offset="0.894" stop-color="#f89540"/><stop offset="0.913" stop-color="#f89540"/><stop offset="0.9193" stop-color="#f9983e"/><stop offset="0.9573" stop-color="#f9983e"/><stop offset="0.9636" stop-color="#fa9c3c"/><stop offset="0.9763" stop-color="#fa9c3c"/><stop offset="0.9984" stop-color="#feb72d"/></linearGradient><linearGradient id="g26" x1="0" y1="0" x2="0" y2="1"><stop offset="0.001582" stop-color="#ab2494"/><stop offset="0.2864" stop-color="#ab2494"/><stop offset="0.2927" stop-color="#ad2793"/><stop offset="0.3117" stop-color="#ad2793"/><stop offset="0.318" stop-color="#b12a90"/><stop offset="0.3307" stop-color="#b12a90"/><stop offset="0.337" stop-color="#b32c8e"/><stop offset="0.356" stop-color="#b32c8e"/><stop offset="0.3623" stop-color="#b6308b"/><stop offset="0.375" stop-color="#b6308b"/><stop offset="0.3813" stop-color="#ba3388"/><stop offset="0.3877" stop-color="#ba3388"/><stop offset="0.394" stop-color="#bc3587"/><stop offset="0.4003" stop-color="#b6308b"/><stop offset="0.4066" stop-color="#b6308b"/><stop offset="0.4256" stop-color="#bf3984"/><stop offset="0.4383" stop-color="#bf3984"/><stop offset="0.4446" stop-color="#c13b82"/><stop offset="0.4636" stop-color="#c13b82"/><stop offset="0.4699" stop-color="#b6308b"/><stop offset="0.4826" stop-color="#c13b82"/><stop offset="0.4889" stop-color="#c43e7f"/><stop offset="0.5016" stop-color="#c43e7f"/><stop offset="0.5079" stop-color="#c6417d"/><stop offset="0.5269" stop-color="#c6417d"/><stop offset="0.5332" stop-color="#c13b82"/><stop offset="0.5396" stop-color="#ba3388"/><stop offset="0.5459" stop-color="#c43e7f"/><stop offset="0.5585" stop-color="#c9447a"/><stop offset="0.5712" stop-color="#c9447a"/><stop offset="0.5775" stop-color="#cc4778"/><stop offset="0.5965" stop-color="#cc4778"/><stop offset="0.6028" stop-color="#c43e7f"/><stop offset="0.6092" stop-color="#c13b82"/><stop offset="0.6155" stop-color="#c9447a"/><stop offset="0.6218" stop-color="#cc4778"/><stop offset="0.6282" stop-color="#cc4778"/><stop offset="0.6345" stop-color="#cd4a76"/><stop offset="0.6472" stop-color="#cd4a76"/><stop offset="0.6535" stop-color="#d04d73"/><stop offset="0.6598" stop-color="#d04d73"/><stop offset="0.6725" stop-color="#bc3587"/><stop offset="0.6851" stop-color="#cc4778"/><stop offset="0.6978" stop-color="#d5536f"/><stop offset="0.7041" stop-color="#d6556d"/><stop offset="0.7104" stop-color="#da5b69"/><stop offset="0.7231" stop-color="#df6263"/><stop offset="0.7294" stop-color="#dd5e66"/><stop offset="0.7484" stop-color="#e87059"/><stop offset="0.7547" stop-color="#e87059"/><stop offset="0.7864" stop-color="#f0804e"/><stop offset="0.7991" stop-color="#f0804e"/><stop offset="0.8054" stop-color="#f2844b"/><stop offset="0.8117" stop-color="#f58b47"/><stop offset="0.818" stop-color="#f58b47"/><stop offset="0.8307" stop-color="#f79143"/><stop offset="0.837" stop-color="#f79143"/><stop offset="0.8434" stop-color="#f89540"/><stop offset="0.8687" stop-color="#f89540"/><stop offset="0.875" stop-color="#f9983e"/><stop offset="0.894" stop-color="#f9983e"/><stop offset="0.9003" stop-color="#fa9c3c"/><stop offset="0.932" stop-color="#fa9c3c"/><stop offset="0.9383" stop-color="#fb9f3a"/><stop offset="0.9699" stop-color="#fb9f3a"/><stop offset="0.9763" stop-color="#fca338"/><stop offset="0.9826" stop-color="#fdab33"/><stop offset="0.9889" stop-color="#feb72d"/><stop offset="0.9953" stop-color="#febe2a"/><stop offset="0.9984" stop-color="#febe2a"/></linearGradient><linearGradient id="g27" x1="0" y1="0" x2="0" y2="1"><stop offset="0.001582" stop-color="#ab2494"/><stop offset="0.2801" stop-color="#ab2494"/><stop offset="0.2864" stop-color="#ad2793"/><stop offset="0.3054" stop-color="#ad2793"/><stop offset="0.3117" stop-color="#b12a90"/><stop offset="0.3244" stop-color="#b12a90"/><stop offset="0.3307" stop-color="#b32c8e"/><stop offset="0.337" stop-color="#b32c8e"/><stop offset="0.3434" stop-color="#b6308b"/><stop offset="0.3497" stop-color="#b6308b"/><stop offset="0.356" stop-color="#ba3388"/><stop offset="0.3623" stop-color="#ba3388"/><stop offset="0.3687" stop-color="#bc3587"/><stop offset="0.375" stop-color="#bc3587"/><stop offset="0.3813" stop-color="#bf3984"/><stop offset="0.3877" stop-color="#bf3984"/><stop offset="0.394" stop-color="#c13b82"/><stop offset="0.4003" stop-color="#bc3587"/><stop offset="0.4066" stop-color="#ba3388"/><stop offset="0.413" stop-color="#bf3984"/><stop offset="0.4256" stop-color="#c43e7f"/><stop offset="0.432" stop-color="#c43e7f"/><stop offset="0.4383" stop-color="#c6417d"/><stop offset="0.4446" stop-color="#c6417d"/><stop offset="0.4509" stop-color="#c9447a"/><stop offset="0.4573" stop-color="#c9447a"/><stop offset="0.4636" stop-color="#c6417d"/><stop offset="0.4699" stop-color="#ba3388"/><stop offset="0.4826" stop-color="#c9447a"/><stop offset="0.4889" stop-color="#cc4778"/><stop offset="0.4953" stop-color="#cc4778"/><stop offset="0.5016" stop-color="#cd4a76"/><stop offset="0.5142" stop-color="#cd4a76"/><stop offset="0.5206" stop-color="#d04d73"/><stop offset="0.5269" stop-color="#d04d73"/><stop offset="0.5332" stop-color="#c9447a"/><stop offset="0.5396" stop-color="#bc3587"/><stop offset="0.5459" stop-color="#cc4778"/><stop offset="0.5522" stop-color="#d04d73"/><stop offset="0.5585" stop-color="#d04d73"/><stop offset="0.5649" stop-color="#d24f71"/><stop offset="0.5712" stop-color="#d24f71"/><stop offset="0.5775" stop-color="#d5536f"/><stop offset="0.5965" stop-color="#d5536f"/><stop offset="0.6028" stop-color="#cc4778"/><stop offset="0.6092" stop-color="#c9447a"/><stop offset="0.6155" stop-color="#d24f71"/><stop offset="0.6282" stop-color="#d6556d"/><stop offset="0.6345" stop-color="#d6556d"/><stop offset="0.6408" stop-color="#d9586a"/><stop offset="0.6598" stop-color="#d9586a"/><stop offset="0.6725" stop-color="#c13b82"/><stop offset="0.6788" stop-color="#cc4778"/><stop offset="0.6915" stop-color="#d9586a"/><stop offset="0.7041" stop-color="#e16462"/><stop offset="0.7231" stop-color="#e76e5b"/><stop offset="0.7294" stop-color="#e3685f"/><stop offset="0.7358" stop-color="#e56a5d"/><stop offset="0.7421" stop-color="#ea7457"/><stop offset="0.7737" stop-color="#f2844b"/><stop offset="0.7801" stop-color="#f2844b"/><stop offset="0.7927" stop-color="#f58b47"/><stop offset="0.7991" stop-color="#f3874a"/><stop offset="0.8054" stop-color="#f58b47"/><stop offset="0.8117" stop-color="#f79143"/><stop offset="0.818" stop-color="#f79143"/><stop offset="0.8307" stop-color="#f9983e"/><stop offset="0.837" stop-color="#f9983e"/><stop offset="0.8434" stop-color="#fa9c3c"/><stop offset="0.8623" stop-color="#fa9c3c"/><stop offset="0.8687" stop-color="#f9983e"/><stop offset="0.8813" stop-color="#fb9f3a"/><stop offset="0.913" stop-color="#fb9f3a"/><stop offset="0.9193" stop-color="#fca338"/><stop offset="0.9699" stop-color="#fca338"/><stop offset="0.9826" stop-color="#fdb22f"/><stop offset="0.9889" stop-color="#febe2a"/><stop offset="0.9984" stop-color="#fdca26"/></linearGradient><linearGradient id="g28" x1="0" y1="0" x2="0" y2="1"><stop offset="0.001582" stop-color="#ab2494"/><stop offset="0.2168" stop-color="#ab2494"/><stop offset="0.2231" stop-color="#ad2793"/><stop offset="0.3054" stop-color="#ad2793"/><stop offset="0.3117" stop-color="#b12a90"/><stop offset="0.318" stop-color="#b12a90"/><stop offset="0.3244" stop-color="#b32c8e"/><stop offset="0.3307" stop-color="#b32c8e"/><stop offset="0.337" stop-color="#b6308b"/><stop offset="0.3434" stop-color="#b6308b"/><stop offset="0.3497" stop-color="#ba3388"/><stop offset="0.356" stop-color="#ba3388"/><stop offset="0.3623" stop-color="#bc3587"/><stop offset="0.3687" stop-color="#bc3587"/><stop offset="0.375" stop-color="#bf3984"/><stop offset="0.3813" stop-color="#bf3984"/><stop offset="0.394" stop-color="#c43e7f"/><stop offset="0.4003" stop-color="#bf3984"/><stop offset="0.4066" stop-color="#bc3587"/><stop offset="0.413" stop-color="#c13b82"/><stop offset="0.432" stop-color="#c9447a"/><stop offset="0.4383" stop-color="#c9447a"/><stop offset="0.4446" stop-color="#cc4778"/><stop offset="0.4509" stop-color="#cc4778"/><stop offset="0.4573" stop-color="#cd4a76"/><stop offset="0.4636" stop-color="#cc4778"/><stop offset="0.4699" stop-color="#bc3587"/><stop offset="0.4763" stop-color="#c6417d"/><stop offset="0.4826" stop-color="#cd4a76"/><stop offset="0.4889" stop-color="#cd4a76"/><stop offset="0.4953" stop-color="#d04d73"/><stop offset="0.5016" stop-color="#d04d73"/><stop offset="0.5079" stop-color="#d24f71"/><stop offset="0.5142" stop-color="#d24f71"/><stop offset="0.5206" stop-color="#d5536f"/><stop offset="0.5269" stop-color="#d5536f"/><stop offset="0.5332" stop-color="#cc4778"/><stop offset="0.5396" stop-color="#bf3984"/><stop offset="0.5459" stop-color="#d04d73"/><stop offset="0.5522" stop-color="#d5536f"/><stop offset="0.5585" stop-color="#d5536f"/><stop offset="0.5649" stop-color="#d6556d"/><stop offset="0.5712" stop-color="#d6556d"/><stop offset="0.5775" stop-color="#d9586a"/><stop offset="0.5965" stop-color="#d9586a"/><stop offset="0.6028" stop-color="#cd4a76"/><stop offset="0.6092" stop-color="#cc4778"/><stop offset="0.6155" stop-color="#d6556d"/><stop offset="0.6282" stop-color="#da5b69"/><stop offset="0.6345" stop-color="#da5b69"/><stop offset="0.6408" stop-color="#dd5e66"/><stop offset="0.6472" stop-color="#dd5e66"/><stop offset="0.6535" stop-color="#df6263"/><stop offset="0.6598" stop-color="#df6263"/><stop offset="0.6725" stop-color="#c43e7f"/><stop offset="0.6788" stop-color="#d04d73"/><stop offset="0.6915" stop-color="#dd5e66"/><stop offset="0.7041" stop-color="#e56a5d"/><stop offset="0.7168" stop-color="#e87059"/><stop offset="0.7231" stop-color="#e87059"/><stop offset="0.7294" stop-color="#e56a5d"/><stop offset="0.7358" stop-color="#e87059"/><stop offset="0.7421" stop-color="#ed7a52"/><stop offset="0.7484" stop-color="#ef7e50"/><stop offset="0.7547" stop-color="#ef7e50"/><stop offset="0.7864" stop-color="#f68d45"/><stop offset="0.7991" stop-color="#f68d45"/><stop offset="0.818" stop-color="#f9983e"/><stop offset="0.8244" stop-color="#f9983e"/><stop offset="0.8307" stop-color="#fa9c3c"/><stop offset="0.837" stop-color="#fa9c3c"/><stop offset="0.8434" stop-color="#fb9f3a"/><stop offset="0.8623" stop-color="#fb9f3a"/><stop offset="0.8687" stop-color="#fa9c3c"/><stop offset="0.8813" stop-color="#fca338"/><stop offset="0.932" stop-color="#fca338"/><stop offset="0.9383" stop-color="#fca636"/><stop offset="0.9699" stop-color="#fca636"/><stop offset="0.9763" stop-color="#fdab33"/><stop offset="0.9826" stop-color="#fdb22f"/><stop offset="0.9889" stop-color="#fdc229"/><stop offset="0.9984" stop-color="#fcce25"/></linearGradient><linearGradient id="g29" x1="0" y1="0" x2="0" y2="1"><stop offset="0.001582" stop-color="#ac2694"/><stop offset="0.2864" stop-color="#ad2793"/><stop offset="0.3244" stop-color="#b42e8d"/><stop offset="0.3623" stop-color="#bd3786"/><stop offset="0.394" stop-color="#c43e7f"/><stop offset="0.4003" stop-color="#bf3984"/><stop offset="0.4066" stop-color="#bc3587"/><stop offset="0.413" stop-color="#c43e7f"/><stop offset="0.4509" stop-color="#cd4a76"/><stop offset="0.4573" stop-color="#cf4c74"/><stop offset="0.4636" stop-color="#cc4977"/><stop offset="0.4699" stop-color="#be3885"/><stop offset="0.4826" stop-color="#ce4b75"/><stop offset="0.5206" stop-color="#d5546e"/><stop offset="0.5269" stop-color="#d6556d"/><stop offset="0.5332" stop-color="#cd4a76"/><stop offset="0.5396" stop-color="#c13b82"/><stop offset="0.5459" stop-color="#d35171"/><stop offset="0.5839" stop-color="#db5c68"/><stop offset="0.5965" stop-color="#dc5d67"/><stop offset="0.6028" stop-color="#d04d73"/><stop offset="0.6092" stop-color="#cd4a76"/><stop offset="0.6155" stop-color="#da5a6a"/><stop offset="0.6535" stop-color="#e16462"/><stop offset="0.6598" stop-color="#e26561"/><stop offset="0.6725" stop-color="#c43e7f"/><stop offset="0.6788" stop-color="#d14e72"/><stop offset="0.6915" stop-color="#df6263"/><stop offset="0.7041" stop-color="#e76e5b"/><stop offset="0.7231" stop-color="#eb7556"/><stop offset="0.7294" stop-color="#e66c5c"/><stop offset="0.7358" stop-color="#e97158"/><stop offset="0.7421" stop-color="#ee7b51"/><stop offset="0.7801" stop-color="#f68d45"/><stop offset="0.7927" stop-color="#f79143"/><stop offset="0.7991" stop-color="#f68f44"/><stop offset="0.8117" stop-color="#f9983e"/><stop offset="0.8497" stop-color="#fba139"/><stop offset="0.8623" stop-color="#fba139"/><stop offset="0.8687" stop-color="#fa9e3b"/><stop offset="0.9066" stop-color="#fca537"/><stop offset="0.9446" stop-color="#fca636"/><stop offset="0.9699" stop-color="#fca835"/><stop offset="0.9763" stop-color="#fdae32"/><stop offset="0.9826" stop-color="#fdb52e"/><stop offset="0.9889" stop-color="#fdc527"/><stop offset="0.9953" stop-color="#fcce25"/><stop offset="0.9984" stop-color="#fcd025"/></linearGradient><linearGradient id="g30" x1="0" y1="0" x2="0" y2="1"><stop offset="0.001582" stop-color="#ac2694"/><stop offset="0.2864" stop-color="#ad2793"/><stop offset="0.3244" stop-color="#b32c8e"/><stop offset="0.3623" stop-color="#bb3488"/><stop offset="0.394" stop-color="#c23c81"/><stop offset="0.4003" stop-color="#be3885"/><stop offset="0.4066" stop-color="#bb3488"/><stop offset="0.413" stop-color="#c23c81"/><stop offset="0.4509" stop-color="#cc4778"/><stop offset="0.4573" stop-color="#cc4977"/><stop offset="0.4636" stop-color="#ca457a"/><stop offset="0.4699" stop-color="#bc3587"/><stop offset="0.4826" stop-color="#cc4977"/><stop offset="0.5206" stop-color="#d45270"/><stop offset="0.5269" stop-color="#d45270"/><stop offset="0.5332" stop-color="#cc4778"/><stop offset="0.5396" stop-color="#bf3984"/><stop offset="0.5459" stop-color="#d04d73"/><stop offset="0.5839" stop-color="#da5a6a"/><stop offset="0.5965" stop-color="#da5a6a"/><stop offset="0.6028" stop-color="#ce4b75"/><stop offset="0.6092" stop-color="#cc4778"/><stop offset="0.6155" stop-color="#d8576b"/><stop offset="0.6535" stop-color="#df6263"/><stop offset="0.6598" stop-color="#df6263"/><stop offset="0.6725" stop-color="#c33d80"/><stop offset="0.6788" stop-color="#cf4c74"/><stop offset="0.6915" stop-color="#de5f65"/><stop offset="0.7041" stop-color="#e66c5c"/><stop offset="0.7231" stop-color="#ea7457"/><stop offset="0.7294" stop-color="#e56b5d"/><stop offset="0.7358" stop-color="#e87059"/><stop offset="0.7421" stop-color="#ed7a52"/><stop offset="0.7801" stop-color="#f58c46"/><stop offset="0.7927" stop-color="#f79044"/><stop offset="0.7991" stop-color="#f68d45"/><stop offset="0.8117" stop-color="#f9973f"/><stop offset="0.8497" stop-color="#fb9f3a"/><stop offset="0.8623" stop-color="#fb9f3a"/><stop offset="0.8687" stop-color="#fa9c3c"/><stop offset="0.9066" stop-color="#fca338"/><stop offset="0.9446" stop-color="#fca636"/><stop offset="0.9699" stop-color="#fca636"/><stop offset="0.9763" stop-color="#fdac33"/><stop offset="0.9826" stop-color="#fdb52e"/><stop offset="0.9889" stop-color="#fdc328"/><stop offset="0.9953" stop-color="#fccd25"/><stop offset="0.9984" stop-color="#fcce25"/></linearGradient><linearGradient id="g31" x1="0" y1="0" x2="0" y2="1"><stop offset="0.001582" stop-color="#ac2694"/><stop offset="0.2864" stop-color="#ad2793"/><stop offset="0.3244" stop-color="#b22b8f"/><stop offset="0.3623" stop-color="#ba3388"/><stop offset="0.394" stop-color="#c13b82"/><stop offset="0.4066" stop-color="#ba3388"/><stop offset="0.413" stop-color="#c03a83"/><stop offset="0.4509" stop-color="#ca457a"/><stop offset="0.4573" stop-color="#cb4679"/><stop offset="0.4636" stop-color="#c9447a"/><stop offset="0.4699" stop-color="#bb3488"/><stop offset="0.4826" stop-color="#cb4679"/><stop offset="0.5206" stop-color="#d24f71"/><stop offset="0.5269" stop-color="#d24f71"/><stop offset="0.5332" stop-color="#ca457a"/><stop offset="0.5396" stop-color="#be3885"/><stop offset="0.5459" stop-color="#ce4b75"/><stop offset="0.5839" stop-color="#d7566c"/><stop offset="0.5965" stop-color="#d8576b"/><stop offset="0.6028" stop-color="#cc4977"/><stop offset="0.6092" stop-color="#cb4679"/><stop offset="0.6155" stop-color="#d6556d"/><stop offset="0.6535" stop-color="#de5f65"/><stop offset="0.6598" stop-color="#de5f65"/><stop offset="0.6725" stop-color="#c23c81"/><stop offset="0.6788" stop-color="#ce4b75"/><stop offset="0.6915" stop-color="#dd5e66"/><stop offset="0.7041" stop-color="#e56a5d"/><stop offset="0.7231" stop-color="#e97257"/><stop offset="0.7294" stop-color="#e56a5d"/><stop offset="0.7358" stop-color="#e76f5a"/><stop offset="0.7421" stop-color="#ed7953"/><stop offset="0.7801" stop-color="#f58b47"/><stop offset="0.7927" stop-color="#f79044"/><stop offset="0.7991" stop-color="#f58c46"/><stop offset="0.8117" stop-color="#f89540"/><stop offset="0.8497" stop-color="#fb9f3a"/><stop offset="0.8623" stop-color="#fb9f3a"/><stop offset="0.8687" stop-color="#fa9c3c"/><stop offset="0.9066" stop-color="#fca338"/><stop offset="0.9446" stop-color="#fca537"/><stop offset="0.9699" stop-color="#fca537"/><stop offset="0.9763" stop-color="#fdab33"/><stop offset="0.9826" stop-color="#fdb42f"/><stop offset="0.9889" stop-color="#fdc229"/><stop offset="0.9953" stop-color="#fdcb26"/><stop offset="0.9984" stop-color="#fccd25"/></linearGradient><linearGradient id="g32" x1="0" y1="0" x2="0" y2="1"><stop offset="0.001582" stop-color="#ac2694"/><stop offset="0.2927" stop-color="#ad2793"/><stop offset="0.3307" stop-color="#b32c8e"/><stop offset="0.3687" stop-color="#ba3388"/><stop offset="0.394" stop-color="#be3885"/><stop offset="0.4066" stop-color="#b7318a"/><stop offset="0.413" stop-color="#be3885"/><stop offset="0.4509" stop-color="#c6417d"/><stop offset="0.4573" stop-color="#c7427c"/><stop offset="0.4636" stop-color="#c5407e"/><stop offset="0.4699" stop-color="#ba3388"/><stop offset="0.4826" stop-color="#c7427c"/><stop offset="0.5206" stop-color="#cd4a76"/><stop offset="0.5269" stop-color="#ce4b75"/><stop offset="0.5332" stop-color="#c7427c"/><stop offset="0.5396" stop-color="#bd3786"/><stop offset="0.5459" stop-color="#cc4778"/><stop offset="0.5839" stop-color="#d45270"/><stop offset="0.5965" stop-color="#d45270"/><stop offset="0.6028" stop-color="#ca457a"/><stop offset="0.6092" stop-color="#c8437b"/><stop offset="0.6155" stop-color="#d35171"/><stop offset="0.6535" stop-color="#da5a6a"/><stop offset="0.6598" stop-color="#da5a6a"/><stop offset="0.6725" stop-color="#c13b82"/><stop offset="0.6788" stop-color="#cc4977"/><stop offset="0.6915" stop-color="#da5b69"/><stop offset="0.7041" stop-color="#e26660"/><stop offset="0.7231" stop-color="#e76f5a"/><stop offset="0.7294" stop-color="#e3685f"/><stop offset="0.7358" stop-color="#e66c5c"/><stop offset="0.7421" stop-color="#eb7655"/><stop offset="0.7801" stop-color="#f48849"/><stop offset="0.7927" stop-color="#f68d45"/><stop offset="0.7991" stop-color="#f58b47"/><stop offset="0.8117" stop-color="#f89441"/><stop offset="0.8497" stop-color="#fa9c3c"/><stop offset="0.8623" stop-color="#fa9c3c"/><stop offset="0.8687" stop-color="#fa9b3d"/><stop offset="0.9066" stop-color="#fba139"/><stop offset="0.9446" stop-color="#fba238"/><stop offset="0.9699" stop-color="#fca338"/><stop offset="0.9763" stop-color="#fca934"/><stop offset="0.9826" stop-color="#fdb130"/><stop offset="0.9889" stop-color="#fec029"/><stop offset="0.9953" stop-color="#fdc827"/><stop offset="0.9984" stop-color="#fdcb26"/></linearGradient><linearGradient id="g33" x1="0" y1="0" x2="0" y2="1"><stop offset="0.001582" stop-color="#ac2694"/><stop offset="0.2927" stop-color="#ad2793"/><stop offset="0.3307" stop-color="#b22b8f"/><stop offset="0.3687" stop-color="#b6308b"/><stop offset="0.394" stop-color="#bb3488"/><stop offset="0.4066" stop-color="#b6308b"/><stop offset="0.413" stop-color="#bb3488"/><stop offset="0.4509" stop-color="#c23c81"/><stop offset="0.4573" stop-color="#c33d80"/><stop offset="0.4636" stop-color="#c13b82"/><stop offset="0.4699" stop-color="#b7318a"/><stop offset="0.4826" stop-color="#c33d80"/><stop offset="0.5206" stop-color="#c9447a"/><stop offset="0.5269" stop-color="#c9447a"/><stop offset="0.5332" stop-color="#c33d80"/><stop offset="0.5396" stop-color="#ba3388"/><stop offset="0.5459" stop-color="#c7427c"/><stop offset="0.5839" stop-color="#ce4b75"/><stop offset="0.5965" stop-color="#ce4b75"/><stop offset="0.6028" stop-color="#c6417d"/><stop offset="0.6092" stop-color="#c43e7f"/><stop offset="0.6155" stop-color="#cd4a76"/><stop offset="0.6535" stop-color="#d45270"/><stop offset="0.6598" stop-color="#d45270"/><stop offset="0.6725" stop-color="#be3885"/><stop offset="0.6788" stop-color="#c9447a"/><stop offset="0.6915" stop-color="#d7566c"/><stop offset="0.7041" stop-color="#df6263"/><stop offset="0.7231" stop-color="#e56b5d"/><stop offset="0.7294" stop-color="#e16462"/><stop offset="0.7358" stop-color="#e4695e"/><stop offset="0.7421" stop-color="#e97257"/><stop offset="0.7801" stop-color="#f3854b"/><stop offset="0.7927" stop-color="#f48948"/><stop offset="0.7991" stop-color="#f48849"/><stop offset="0.8117" stop-color="#f79044"/><stop offset="0.8497" stop-color="#f99a3e"/><stop offset="0.8623" stop-color="#f99a3e"/><stop offset="0.8687" stop-color="#f9983e"/><stop offset="0.9066" stop-color="#fa9e3b"/><stop offset="0.9446" stop-color="#fb9f3a"/><stop offset="0.9699" stop-color="#fba139"/><stop offset="0.9763" stop-color="#fca636"/><stop offset="0.9826" stop-color="#fdae32"/><stop offset="0.9889" stop-color="#febb2b"/><stop offset="0.9953" stop-color="#fdc527"/><stop offset="0.9984" stop-color="#fdc627"/></linearGradient><linearGradient id="g34" x1="0" y1="0" x2="0" y2="1"><stop offset="0.001582" stop-color="#ac2694"/><stop offset="0.2927" stop-color="#ad2793"/><stop offset="0.3307" stop-color="#b12a90"/><stop offset="0.3687" stop-color="#b52f8c"/><stop offset="0.394" stop-color="#ba3388"/><stop offset="0.4066" stop-color="#b42e8d"/><stop offset="0.413" stop-color="#b83289"/><stop offset="0.4509" stop-color="#bf3984"/><stop offset="0.4573" stop-color="#c03a83"/><stop offset="0.4636" stop-color="#bf3984"/><stop offset="0.4699" stop-color="#b6308b"/><stop offset="0.4826" stop-color="#c03a83"/><stop offset="0.5206" stop-color="#c6417d"/><stop offset="0.5269" stop-color="#c6417d"/><stop offset="0.5396" stop-color="#b83289"/><stop offset="0.5459" stop-color="#c43e7f"/><stop offset="0.5839" stop-color="#cb4679"/><stop offset="0.5965" stop-color="#cb4679"/><stop offset="0.6028" stop-color="#c33d80"/><stop offset="0.6092" stop-color="#c13b82"/><stop offset="0.6155" stop-color="#ca457a"/><stop offset="0.6535" stop-color="#cf4c74"/><stop offset="0.6598" stop-color="#d04d73"/><stop offset="0.6725" stop-color="#bd3786"/><stop offset="0.6788" stop-color="#c7427c"/><stop offset="0.6978" stop-color="#da5a6a"/><stop offset="0.7104" stop-color="#e06363"/><stop offset="0.7231" stop-color="#e3685f"/><stop offset="0.7294" stop-color="#df6263"/><stop offset="0.7358" stop-color="#e26660"/><stop offset="0.7421" stop-color="#e87059"/><stop offset="0.7801" stop-color="#f1834c"/><stop offset="0.7927" stop-color="#f48849"/><stop offset="0.7991" stop-color="#f3854b"/><stop offset="0.8117" stop-color="#f68f44"/><stop offset="0.8497" stop-color="#f9983e"/><stop offset="0.8623" stop-color="#f9983e"/><stop offset="0.8687" stop-color="#f89540"/><stop offset="0.9066" stop-color="#fa9c3c"/><stop offset="0.9446" stop-color="#fa9e3b"/><stop offset="0.9699" stop-color="#fb9f3a"/><stop offset="0.9826" stop-color="#fdac33"/><stop offset="0.9889" stop-color="#feba2c"/><stop offset="0.9953" stop-color="#fdc229"/><stop offset="0.9984" stop-color="#fdc328"/></linearGradient><linearGradient id="g35" x1="0" y1="0" x2="0" y2="1"><stop offset="0.001582" stop-color="#ac2694"/><stop offset="0.2864" stop-color="#ad2793"/><stop offset="0.3244" stop-color="#b22b8f"/><stop offset="0.3623" stop-color="#b83289"/><stop offset="0.394" stop-color="#bf3984"/><stop offset="0.4066" stop-color="#b83289"/><stop offset="0.413" stop-color="#bf3984"/><stop offset="0.4509" stop-color="#c8437b"/><stop offset="0.4573" stop-color="#c9447a"/><stop offset="0.4636" stop-color="#c7427c"/><stop offset="0.4699" stop-color="#bb3488"/><stop offset="0.4826" stop-color="#c9447a"/><stop offset="0.5206" stop-color="#cf4c74"/><stop offset="0.5269" stop-color="#d04d73"/><stop offset="0.5332" stop-color="#c9447a"/><stop offset="0.5396" stop-color="#bd3786"/><stop offset="0.5459" stop-color="#cc4977"/><stop offset="0.5839" stop-color="#d5546e"/><stop offset="0.5965" stop-color="#d6556d"/><stop offset="0.6028" stop-color="#cc4778"/><stop offset="0.6092" stop-color="#c9447a"/><stop offset="0.6155" stop-color="#d5536f"/><stop offset="0.6535" stop-color="#db5c68"/><stop offset="0.6598" stop-color="#dc5d67"/><stop offset="0.6725" stop-color="#c23c81"/><stop offset="0.6788" stop-color="#cd4a76"/><stop offset="0.6915" stop-color="#db5c68"/><stop offset="0.7041" stop-color="#e4695e"/><stop offset="0.7231" stop-color="#e87059"/><stop offset="0.7294" stop-color="#e4695e"/><stop offset="0.7358" stop-color="#e76e5b"/><stop offset="0.7421" stop-color="#ec7754"/><stop offset="0.7801" stop-color="#f48948"/><stop offset="0.7927" stop-color="#f68f44"/><stop offset="0.7991" stop-color="#f58c46"/><stop offset="0.8117" stop-color="#f89441"/><stop offset="0.8497" stop-color="#fa9e3b"/><stop offset="0.8623" stop-color="#fa9e3b"/><stop offset="0.8687" stop-color="#fa9b3d"/><stop offset="0.9066" stop-color="#fba238"/><stop offset="0.9446" stop-color="#fca338"/><stop offset="0.9699" stop-color="#fca537"/><stop offset="0.9763" stop-color="#fca934"/><stop offset="0.9826" stop-color="#fdb22f"/><stop offset="0.9889" stop-color="#fec029"/><stop offset="0.9953" stop-color="#fdca26"/><stop offset="0.9984" stop-color="#fccd25"/></linearGradient><linearGradient id="g36" x1="0" y1="0" x2="0" y2="1"><stop offset="0.001582" stop-color="#ac2694"/><stop offset="0.2927" stop-color="#ad2793"/><stop offset="0.3307" stop-color="#b12a90"/><stop offset="0.3687" stop-color="#b52f8c"/><stop offset="0.394" stop-color="#b83289"/><stop offset="0.4066" stop-color="#b42e8d"/><stop offset="0.413" stop-color="#b83289"/><stop offset="0.4509" stop-color="#be3885"/><stop offset="0.4636" stop-color="#be3885"/><stop offset="0.4699" stop-color="#b52f8c"/><stop offset="0.4826" stop-color="#bf3984"/><stop offset="0.5206" stop-color="#c43e7f"/><stop offset="0.5269" stop-color="#c43e7f"/><stop offset="0.5396" stop-color="#b7318a"/><stop offset="0.5459" stop-color="#c23c81"/><stop offset="0.5839" stop-color="#c9447a"/><stop offset="0.5965" stop-color="#c9447a"/><stop offset="0.6028" stop-color="#c13b82"/><stop offset="0.6092" stop-color="#c03a83"/><stop offset="0.6155" stop-color="#c8437b"/><stop offset="0.6535" stop-color="#cd4a76"/><stop offset="0.6598" stop-color="#cd4a76"/><stop offset="0.6725" stop-color="#bc3587"/><stop offset="0.6851" stop-color="#cd4a76"/><stop offset="0.6978" stop-color="#d8576b"/><stop offset="0.7104" stop-color="#df6263"/><stop offset="0.7231" stop-color="#e26660"/><stop offset="0.7294" stop-color="#de6164"/><stop offset="0.7358" stop-color="#e26561"/><stop offset="0.7421" stop-color="#e76f5a"/><stop offset="0.7801" stop-color="#f1814d"/><stop offset="0.7927" stop-color="#f3874a"/><stop offset="0.7991" stop-color="#f2844b"/><stop offset="0.8117" stop-color="#f68d45"/><stop offset="0.8497" stop-color="#f9973f"/><stop offset="0.8623" stop-color="#f9973f"/><stop offset="0.8687" stop-color="#f89540"/><stop offset="0.9066" stop-color="#fa9b3d"/><stop offset="0.9446" stop-color="#fa9c3c"/><stop offset="0.9699" stop-color="#fa9e3b"/><stop offset="0.9826" stop-color="#fdab33"/><stop offset="0.9889" stop-color="#feb82c"/><stop offset="0.9953" stop-color="#fec029"/><stop offset="0.9984" stop-color="#fdc229"/></linearGradient><linearGradient id="g37" x1="0" y1="0" x2="0" y2="1"><stop offset="0.001582" stop-color="#ac2694"/><stop offset="0.2927" stop-color="#ad2793"/><stop offset="0.3307" stop-color="#b12a90"/><stop offset="0.3687" stop-color="#b6308b"/><stop offset="0.394" stop-color="#ba3388"/><stop offset="0.4066" stop-color="#b52f8c"/><stop offset="0.413" stop-color="#ba3388"/><stop offset="0.4509" stop-color="#c13b82"/><stop offset="0.4573" stop-color="#c23c81"/><stop offset="0.4636" stop-color="#c03a83"/><stop offset="0.4699" stop-color="#b6308b"/><stop offset="0.4826" stop-color="#c23c81"/><stop offset="0.5206" stop-color="#c7427c"/><stop offset="0.5269" stop-color="#c8437b"/><stop offset="0.5332" stop-color="#c23c81"/><stop offset="0.5396" stop-color="#b83289"/><stop offset="0.5459" stop-color="#c5407e"/><stop offset="0.5839" stop-color="#cc4977"/><stop offset="0.5965" stop-color="#cc4977"/><stop offset="0.6028" stop-color="#c43e7f"/><stop offset="0.6092" stop-color="#c23c81"/><stop offset="0.6155" stop-color="#cc4778"/><stop offset="0.6535" stop-color="#d24f71"/><stop offset="0.6598" stop-color="#d24f71"/><stop offset="0.6725" stop-color="#be3885"/><stop offset="0.6788" stop-color="#c8437b"/><stop offset="0.6978" stop-color="#da5b69"/><stop offset="0.7104" stop-color="#e16462"/><stop offset="0.7231" stop-color="#e4695e"/><stop offset="0.7294" stop-color="#e06363"/><stop offset="0.7358" stop-color="#e3685f"/><stop offset="0.7421" stop-color="#e97158"/><stop offset="0.7801" stop-color="#f2844b"/><stop offset="0.7927" stop-color="#f48948"/><stop offset="0.7991" stop-color="#f3874a"/><stop offset="0.8117" stop-color="#f79044"/><stop offset="0.8497" stop-color="#f99a3e"/><stop offset="0.8623" stop-color="#f9983e"/><stop offset="0.8687" stop-color="#f9973f"/><stop offset="0.9066" stop-color="#fa9e3b"/><stop offset="0.9446" stop-color="#fb9f3a"/><stop offset="0.9699" stop-color="#fb9f3a"/><stop offset="0.9763" stop-color="#fca537"/><stop offset="0.9826" stop-color="#fdac33"/><stop offset="0.9889" stop-color="#feba2c"/><stop offset="0.9953" stop-color="#fdc328"/><stop offset="0.9984" stop-color="#fdc527"/></linearGradient><linearGradient id="g38" x1="0" y1="0" x2="0" y2="1"><stop offset="0.001582" stop-color="#ac2694"/><stop offset="0.2927" stop-color="#ad2793"/><stop offset="0.3307" stop-color="#b22b8f"/><stop offset="0.3687" stop-color="#b83289"/><stop offset="0.394" stop-color="#bd3786"/><stop offset="0.4066" stop-color="#b7318a"/><stop offset="0.413" stop-color="#bd3786"/><stop offset="0.4509" stop-color="#c5407e"/><stop offset="0.4573" stop-color="#c6417d"/><stop offset="0.4636" stop-color="#c43e7f"/><stop offset="0.4699" stop-color="#b83289"/><stop offset="0.4826" stop-color="#c6417d"/><stop offset="0.5206" stop-color="#cc4778"/><stop offset="0.5269" stop-color="#cc4977"/><stop offset="0.5332" stop-color="#c6417d"/><stop offset="0.5396" stop-color="#bc3587"/><stop offset="0.5459" stop-color="#ca457a"/><stop offset="0.5839" stop-color="#d24f71"/><stop offset="0.5965" stop-color="#d24f71"/><stop offset="0.6028" stop-color="#c9447a"/><stop offset="0.6092" stop-color="#c7427c"/><stop offset="0.6155" stop-color="#d14e72"/><stop offset="0.6535" stop-color="#d8576b"/><stop offset="0.6598" stop-color="#d8576b"/><stop offset="0.6725" stop-color="#c03a83"/><stop offset="0.6788" stop-color="#cc4778"/><stop offset="0.6915" stop-color="#d9586a"/><stop offset="0.7041" stop-color="#e26561"/><stop offset="0.7231" stop-color="#e76e5b"/><stop offset="0.7294" stop-color="#e26660"/><stop offset="0.7358" stop-color="#e56b5d"/><stop offset="0.7421" stop-color="#eb7556"/><stop offset="0.7801" stop-color="#f3874a"/><stop offset="0.7927" stop-color="#f58c46"/><stop offset="0.7991" stop-color="#f48948"/><stop offset="0.8117" stop-color="#f79342"/><stop offset="0.8497" stop-color="#fa9c3c"/><stop offset="0.8623" stop-color="#fa9c3c"/><stop offset="0.8687" stop-color="#f99a3e"/><stop offset="0.9066" stop-color="#fba139"/><stop offset="0.9446" stop-color="#fba238"/><stop offset="0.9699" stop-color="#fba238"/><stop offset="0.9763" stop-color="#fca835"/><stop offset="0.9826" stop-color="#fdb130"/><stop offset="0.9889" stop-color="#febe2a"/><stop offset="0.9953" stop-color="#fdc827"/><stop offset="0.9984" stop-color="#fdca26"/></linearGradient><linearGradient id="g39" x1="0" y1="0" x2="0" y2="1"><stop offset="0.001582" stop-color="#ac2694"/><stop offset="0.2864" stop-color="#ad2793"/><stop offset="0.3244" stop-color="#b52f8c"/><stop offset="0.3623" stop-color="#c03a83"/><stop offset="0.394" stop-color="#c9447a"/><stop offset="0.4003" stop-color="#c23c81"/><stop offset="0.4066" stop-color="#bf3984"/><stop offset="0.413" stop-color="#c7427c"/><stop offset="0.4509" stop-color="#d24f71"/><stop offset="0.4573" stop-color="#d35171"/><stop offset="0.4636" stop-color="#d04d73"/><stop offset="0.4699" stop-color="#c03a83"/><stop offset="0.4826" stop-color="#d24f71"/><stop offset="0.5206" stop-color="#d9586a"/><stop offset="0.5269" stop-color="#da5a6a"/><stop offset="0.5332" stop-color="#d04d73"/><stop offset="0.5396" stop-color="#c23c81"/><stop offset="0.5459" stop-color="#d5546e"/><stop offset="0.5522" stop-color="#d9586a"/><stop offset="0.5902" stop-color="#de6164"/><stop offset="0.5965" stop-color="#de6164"/><stop offset="0.6028" stop-color="#d24f71"/><stop offset="0.6092" stop-color="#cf4c74"/><stop offset="0.6155" stop-color="#dc5d67"/><stop offset="0.6535" stop-color="#e3685f"/><stop offset="0.6598" stop-color="#e3685f"/><stop offset="0.6725" stop-color="#c5407e"/><stop offset="0.6788" stop-color="#d24f71"/><stop offset="0.6915" stop-color="#e06363"/><stop offset="0.7041" stop-color="#e76f5a"/><stop offset="0.7231" stop-color="#eb7655"/><stop offset="0.7294" stop-color="#e76e5b"/><stop offset="0.7358" stop-color="#e97257"/><stop offset="0.7421" stop-color="#ef7c51"/><stop offset="0.7801" stop-color="#f68f44"/><stop offset="0.7927" stop-color="#f79342"/><stop offset="0.7991" stop-color="#f79044"/><stop offset="0.8117" stop-color="#f9983e"/><stop offset="0.8497" stop-color="#fba238"/><stop offset="0.8623" stop-color="#fba238"/><stop offset="0.8687" stop-color="#fb9f3a"/><stop offset="0.9066" stop-color="#fca636"/><stop offset="0.9446" stop-color="#fca835"/><stop offset="0.9699" stop-color="#fca934"/><stop offset="0.9763" stop-color="#fdae32"/><stop offset="0.9826" stop-color="#feb72d"/><stop offset="0.9889" stop-color="#fdc627"/><stop offset="0.9953" stop-color="#fcd025"/><stop offset="0.9984" stop-color="#fcd225"/></linearGradient><linearGradient id="g40" x1="0" y1="0" x2="0" y2="1"><stop offset="0.001582" stop-color="#ac2694"/><stop offset="0.2927" stop-color="#ad2793"/><stop offset="0.3307" stop-color="#b02991"/><stop offset="0.3687" stop-color="#b42e8d"/><stop offset="0.394" stop-color="#b6308b"/><stop offset="0.4066" stop-color="#b32c8e"/><stop offset="0.4446" stop-color="#bb3488"/><stop offset="0.4573" stop-color="#bd3786"/><stop offset="0.4636" stop-color="#bb3488"/><stop offset="0.4699" stop-color="#b42e8d"/><stop offset="0.4826" stop-color="#bd3786"/><stop offset="0.5206" stop-color="#c13b82"/><stop offset="0.5269" stop-color="#c13b82"/><stop offset="0.5396" stop-color="#b6308b"/><stop offset="0.5459" stop-color="#bf3984"/><stop offset="0.5839" stop-color="#c5407e"/><stop offset="0.5965" stop-color="#c5407e"/><stop offset="0.6028" stop-color="#bf3984"/><stop offset="0.6092" stop-color="#bd3786"/><stop offset="0.6155" stop-color="#c43e7f"/><stop offset="0.6535" stop-color="#c9447a"/><stop offset="0.6598" stop-color="#ca457a"/><stop offset="0.6725" stop-color="#ba3388"/><stop offset="0.6851" stop-color="#cb4679"/><stop offset="0.7041" stop-color="#da5a6a"/><stop offset="0.7231" stop-color="#e16462"/><stop offset="0.7294" stop-color="#dd5e66"/><stop offset="0.7358" stop-color="#e06363"/><stop offset="0.7421" stop-color="#e66c5c"/><stop offset="0.7801" stop-color="#f07f4f"/><stop offset="0.7927" stop-color="#f2844b"/><stop offset="0.7991" stop-color="#f1834c"/><stop offset="0.8117" stop-color="#f58c46"/><stop offset="0.8497" stop-color="#f89540"/><stop offset="0.8623" stop-color="#f89540"/><stop offset="0.8687" stop-color="#f79342"/><stop offset="0.9066" stop-color="#f99a3e"/><stop offset="0.9446" stop-color="#fa9b3d"/><stop offset="0.9699" stop-color="#fa9b3d"/><stop offset="0.9826" stop-color="#fca835"/><stop offset="0.9889" stop-color="#fdb52e"/><stop offset="0.9953" stop-color="#febe2a"/><stop offset="0.9984" stop-color="#fec029"/></linearGradient><linearGradient id="g41" x1="0" y1="0" x2="0" y2="1"><stop offset="0.001582" stop-color="#ac2694"/><stop offset="0.2927" stop-color="#ad2793"/><stop offset="0.3307" stop-color="#b02991"/><stop offset="0.3687" stop-color="#b32c8e"/><stop offset="0.394" stop-color="#b6308b"/><stop offset="0.4066" stop-color="#b32c8e"/><stop offset="0.4446" stop-color="#ba3388"/><stop offset="0.4573" stop-color="#bb3488"/><stop offset="0.4636" stop-color="#ba3388"/><stop offset="0.4699" stop-color="#b32c8e"/><stop offset="0.4826" stop-color="#bb3488"/><stop offset="0.5206" stop-color="#bf3984"/><stop offset="0.5269" stop-color="#c03a83"/><stop offset="0.5396" stop-color="#b52f8c"/><stop offset="0.5459" stop-color="#be3885"/><stop offset="0.5839" stop-color="#c33d80"/><stop offset="0.5965" stop-color="#c33d80"/><stop offset="0.6028" stop-color="#bd3786"/><stop offset="0.6092" stop-color="#bc3587"/><stop offset="0.6155" stop-color="#c33d80"/><stop offset="0.6535" stop-color="#c7427c"/><stop offset="0.6598" stop-color="#c7427c"/><stop offset="0.6725" stop-color="#b83289"/><stop offset="0.6851" stop-color="#ca457a"/><stop offset="0.7041" stop-color="#d9586a"/><stop offset="0.7231" stop-color="#df6263"/><stop offset="0.7294" stop-color="#dc5d67"/><stop offset="0.7358" stop-color="#df6263"/><stop offset="0.7421" stop-color="#e56b5d"/><stop offset="0.7801" stop-color="#ef7e50"/><stop offset="0.7927" stop-color="#f2844b"/><stop offset="0.7991" stop-color="#f1814d"/><stop offset="0.8117" stop-color="#f58b47"/><stop offset="0.8497" stop-color="#f89441"/><stop offset="0.8687" stop-color="#f79342"/><stop offset="0.9066" stop-color="#f9983e"/><stop offset="0.9446" stop-color="#f99a3e"/><stop offset="0.9699" stop-color="#fa9b3d"/><stop offset="0.9826" stop-color="#fca835"/><stop offset="0.9889" stop-color="#fdb42f"/><stop offset="0.9953" stop-color="#febd2a"/><stop offset="0.9984" stop-color="#febe2a"/></linearGradient><linearGradient id="g42" x1="0" y1="0" x2="0" y2="1"><stop offset="0.001582" stop-color="#ac2694"/><stop offset="0.2927" stop-color="#ad2793"/><stop offset="0.3307" stop-color="#b22b8f"/><stop offset="0.3687" stop-color="#b7318a"/><stop offset="0.394" stop-color="#bc3587"/><stop offset="0.4066" stop-color="#b6308b"/><stop offset="0.413" stop-color="#bc3587"/><stop offset="0.4509" stop-color="#c33d80"/><stop offset="0.4573" stop-color="#c43e7f"/><stop offset="0.4636" stop-color="#c23c81"/><stop offset="0.4699" stop-color="#b7318a"/><stop offset="0.4826" stop-color="#c43e7f"/><stop offset="0.5206" stop-color="#cb4679"/><stop offset="0.5269" stop-color="#cb4679"/><stop offset="0.5332" stop-color="#c43e7f"/><stop offset="0.5396" stop-color="#bb3488"/><stop offset="0.5459" stop-color="#c8437b"/><stop offset="0.5839" stop-color="#d04d73"/><stop offset="0.5965" stop-color="#d04d73"/><stop offset="0.6028" stop-color="#c7427c"/><stop offset="0.6092" stop-color="#c5407e"/><stop offset="0.6155" stop-color="#cf4c74"/><stop offset="0.6535" stop-color="#d5546e"/><stop offset="0.6598" stop-color="#d6556d"/><stop offset="0.6725" stop-color="#bf3984"/><stop offset="0.6788" stop-color="#ca457a"/><stop offset="0.6915" stop-color="#d8576b"/><stop offset="0.7041" stop-color="#e16462"/><stop offset="0.7231" stop-color="#e66c5c"/><stop offset="0.7294" stop-color="#e26561"/><stop offset="0.7358" stop-color="#e56a5d"/><stop offset="0.7421" stop-color="#ea7457"/><stop offset="0.7801" stop-color="#f3874a"/><stop offset="0.7927" stop-color="#f58b47"/><stop offset="0.7991" stop-color="#f48849"/><stop offset="0.8117" stop-color="#f79143"/><stop offset="0.8497" stop-color="#fa9b3d"/><stop offset="0.8623" stop-color="#fa9b3d"/><stop offset="0.8687" stop-color="#f9983e"/><stop offset="0.9066" stop-color="#fb9f3a"/><stop offset="0.9446" stop-color="#fba139"/><stop offset="0.9699" stop-color="#fba238"/><stop offset="0.9763" stop-color="#fca636"/><stop offset="0.9826" stop-color="#fdaf31"/><stop offset="0.9889" stop-color="#febd2a"/><stop offset="0.9953" stop-color="#fdc627"/><stop offset="0.9984" stop-color="#fdc827"/></linearGradient><linearGradient id="g43" x1="0" y1="0" x2="0" y2="1"><stop offset="0.001582" stop-color="#ac2694"/><stop offset="0.2927" stop-color="#ad2793"/><stop offset="0.3307" stop-color="#b12a90"/><stop offset="0.3687" stop-color="#b42e8d"/><stop offset="0.394" stop-color="#b7318a"/><stop offset="0.4066" stop-color="#b32c8e"/><stop offset="0.413" stop-color="#b7318a"/><stop offset="0.4509" stop-color="#bd3786"/><stop offset="0.4636" stop-color="#bc3587"/><stop offset="0.4699" stop-color="#b42e8d"/><stop offset="0.4826" stop-color="#be3885"/><stop offset="0.5206" stop-color="#c23c81"/><stop offset="0.5269" stop-color="#c33d80"/><stop offset="0.5396" stop-color="#b6308b"/><stop offset="0.5459" stop-color="#c13b82"/><stop offset="0.5839" stop-color="#c7427c"/><stop offset="0.5965" stop-color="#c7427c"/><stop offset="0.6028" stop-color="#c03a83"/><stop offset="0.6092" stop-color="#bf3984"/><stop offset="0.6155" stop-color="#c6417d"/><stop offset="0.6535" stop-color="#cc4778"/><stop offset="0.6598" stop-color="#cc4778"/><stop offset="0.6725" stop-color="#bb3488"/><stop offset="0.6851" stop-color="#cc4778"/><stop offset="0.7041" stop-color="#db5c68"/><stop offset="0.7231" stop-color="#e26561"/><stop offset="0.7294" stop-color="#de5f65"/><stop offset="0.7358" stop-color="#e16462"/><stop offset="0.7421" stop-color="#e76e5b"/><stop offset="0.7801" stop-color="#f0804e"/><stop offset="0.7927" stop-color="#f3854b"/><stop offset="0.7991" stop-color="#f2844b"/><stop offset="0.8117" stop-color="#f68d45"/><stop offset="0.8497" stop-color="#f89540"/><stop offset="0.8623" stop-color="#f89540"/><stop offset="0.8687" stop-color="#f89441"/><stop offset="0.9066" stop-color="#fa9b3d"/><stop offset="0.9446" stop-color="#fa9c3c"/><stop offset="0.9699" stop-color="#fa9c3c"/><stop offset="0.9826" stop-color="#fca934"/><stop offset="0.9889" stop-color="#feb72d"/><stop offset="0.9953" stop-color="#febe2a"/><stop offset="0.9984" stop-color="#fdc229"/></linearGradient><linearGradient id="g44" x1="0" y1="0" x2="0" y2="1"><stop offset="0.001582" stop-color="#ac2694"/><stop offset="0.2927" stop-color="#ad2793"/><stop offset="0.3307" stop-color="#b02991"/><stop offset="0.3687" stop-color="#b32c8e"/><stop offset="0.394" stop-color="#b52f8c"/><stop offset="0.4066" stop-color="#b22b8f"/><stop offset="0.4446" stop-color="#b83289"/><stop offset="0.4636" stop-color="#b83289"/><stop offset="0.4699" stop-color="#b32c8e"/><stop offset="0.4826" stop-color="#ba3388"/><stop offset="0.5206" stop-color="#be3885"/><stop offset="0.5269" stop-color="#be3885"/><stop offset="0.5396" stop-color="#b42e8d"/><stop offset="0.5459" stop-color="#bc3587"/><stop offset="0.5839" stop-color="#c13b82"/><stop offset="0.5965" stop-color="#c13b82"/><stop offset="0.6028" stop-color="#bc3587"/><stop offset="0.6092" stop-color="#bb3488"/><stop offset="0.6155" stop-color="#c13b82"/><stop offset="0.6535" stop-color="#c5407e"/><stop offset="0.6598" stop-color="#c5407e"/><stop offset="0.6725" stop-color="#b83289"/><stop offset="0.6915" stop-color="#ce4b75"/><stop offset="0.7104" stop-color="#db5c68"/><stop offset="0.7231" stop-color="#de6164"/><stop offset="0.7294" stop-color="#db5c68"/><stop offset="0.7358" stop-color="#de6164"/><stop offset="0.7421" stop-color="#e56a5d"/><stop offset="0.7801" stop-color="#ef7e50"/><stop offset="0.7927" stop-color="#f1834c"/><stop offset="0.7991" stop-color="#f0804e"/><stop offset="0.8117" stop-color="#f48948"/><stop offset="0.8497" stop-color="#f79342"/><stop offset="0.8687" stop-color="#f79143"/><stop offset="0.9066" stop-color="#f9983e"/><stop offset="0.9446" stop-color="#f99a3e"/><stop offset="0.9699" stop-color="#f99a3e"/><stop offset="0.9826" stop-color="#fca636"/><stop offset="0.9889" stop-color="#fdb22f"/><stop offset="0.9953" stop-color="#febb2b"/><stop offset="0.9984" stop-color="#febd2a"/></linearGradient><linearGradient id="g45" x1="0" y1="0" x2="0" y2="1"><stop offset="0.001582" stop-color="#ac2694"/><stop offset="0.2991" stop-color="#ad2793"/><stop offset="0.337" stop-color="#b02991"/><stop offset="0.375" stop-color="#b32c8e"/><stop offset="0.394" stop-color="#b42e8d"/><stop offset="0.4066" stop-color="#b22b8f"/><stop offset="0.4446" stop-color="#b7318a"/><stop offset="0.4636" stop-color="#b7318a"/><stop offset="0.4699" stop-color="#b22b8f"/><stop offset="0.4826" stop-color="#b83289"/><stop offset="0.5206" stop-color="#bc3587"/><stop offset="0.5269" stop-color="#bd3786"/><stop offset="0.5396" stop-color="#b32c8e"/><stop offset="0.5459" stop-color="#bb3488"/><stop offset="0.5839" stop-color="#bf3984"/><stop offset="0.5965" stop-color="#c03a83"/><stop offset="0.6028" stop-color="#bb3488"/><stop offset="0.6092" stop-color="#ba3388"/><stop offset="0.6155" stop-color="#bf3984"/><stop offset="0.6535" stop-color="#c33d80"/><stop offset="0.6598" stop-color="#c33d80"/><stop offset="0.6725" stop-color="#b7318a"/><stop offset="0.6978" stop-color="#d24f71"/><stop offset="0.7104" stop-color="#da5a6a"/><stop offset="0.7231" stop-color="#de5f65"/><stop offset="0.7294" stop-color="#da5b69"/><stop offset="0.7358" stop-color="#de5f65"/><stop offset="0.7421" stop-color="#e4695e"/><stop offset="0.7801" stop-color="#ef7c51"/><stop offset="0.7927" stop-color="#f1814d"/><stop offset="0.7991" stop-color="#f0804e"/><stop offset="0.8117" stop-color="#f48948"/><stop offset="0.8497" stop-color="#f79342"/><stop offset="0.8687" stop-color="#f79044"/><stop offset="0.9066" stop-color="#f9973f"/><stop offset="0.9446" stop-color="#f9983e"/><stop offset="0.9699" stop-color="#f9983e"/><stop offset="0.9826" stop-color="#fca537"/><stop offset="0.9889" stop-color="#fdb22f"/><stop offset="0.9953" stop-color="#feba2c"/><stop offset="0.9984" stop-color="#febb2b"/></linearGradient><linearGradient id="g46" x1="0" y1="0" x2="0" y2="1"><stop offset="0.001582" stop-color="#ac2694"/><stop offset="0.2991" stop-color="#ad2793"/><stop offset="0.337" stop-color="#b02991"/><stop offset="0.375" stop-color="#b22b8f"/><stop offset="0.394" stop-color="#b42e8d"/><stop offset="0.4066" stop-color="#b12a90"/><stop offset="0.4446" stop-color="#b6308b"/><stop offset="0.4636" stop-color="#b6308b"/><stop offset="0.4699" stop-color="#b22b8f"/><stop offset="0.4826" stop-color="#b7318a"/><stop offset="0.5206" stop-color="#bb3488"/><stop offset="0.5269" stop-color="#bb3488"/><stop offset="0.5396" stop-color="#b32c8e"/><stop offset="0.5459" stop-color="#ba3388"/><stop offset="0.5839" stop-color="#bd3786"/><stop offset="0.5965" stop-color="#be3885"/><stop offset="0.6028" stop-color="#b83289"/><stop offset="0.6092" stop-color="#b7318a"/><stop offset="0.6155" stop-color="#bd3786"/><stop offset="0.6535" stop-color="#c03a83"/><stop offset="0.6598" stop-color="#c13b82"/><stop offset="0.6725" stop-color="#b6308b"/><stop offset="0.6978" stop-color="#d14e72"/><stop offset="0.7104" stop-color="#d9586a"/><stop offset="0.7231" stop-color="#dd5e66"/><stop offset="0.7294" stop-color="#da5a6a"/><stop offset="0.7358" stop-color="#dd5e66"/><stop offset="0.7421" stop-color="#e3685f"/><stop offset="0.7801" stop-color="#ee7b51"/><stop offset="0.7927" stop-color="#f0804e"/><stop offset="0.7991" stop-color="#f07f4f"/><stop offset="0.8117" stop-color="#f48849"/><stop offset="0.8497" stop-color="#f79143"/><stop offset="0.8687" stop-color="#f79044"/><stop offset="0.9066" stop-color="#f89540"/><stop offset="0.9446" stop-color="#f9973f"/><stop offset="0.9699" stop-color="#f9983e"/><stop offset="0.9826" stop-color="#fca338"/><stop offset="0.9889" stop-color="#fdb130"/><stop offset="0.9984" stop-color="#feba2c"/></linearGradient><linearGradient id="g47" x1="0" y1="0" x2="0" y2="1"><stop offset="0.001582" stop-color="#ac2694"/><stop offset="0.2991" stop-color="#ad2793"/><stop offset="0.337" stop-color="#b02991"/><stop offset="0.375" stop-color="#b22b8f"/><stop offset="0.394" stop-color="#b32c8e"/><stop offset="0.4066" stop-color="#b12a90"/><stop offset="0.4446" stop-color="#b52f8c"/><stop offset="0.4636" stop-color="#b52f8c"/><stop offset="0.4699" stop-color="#b12a90"/><stop offset="0.4826" stop-color="#b6308b"/><stop offset="0.5206" stop-color="#b83289"/><stop offset="0.5269" stop-color="#ba3388"/><stop offset="0.5396" stop-color="#b22b8f"/><stop offset="0.5459" stop-color="#b7318a"/><stop offset="0.5839" stop-color="#bc3587"/><stop offset="0.5965" stop-color="#bc3587"/><stop offset="0.6028" stop-color="#b7318a"/><stop offset="0.6092" stop-color="#b6308b"/><stop offset="0.6155" stop-color="#bb3488"/><stop offset="0.6535" stop-color="#be3885"/><stop offset="0.6598" stop-color="#be3885"/><stop offset="0.6725" stop-color="#b52f8c"/><stop offset="0.6978" stop-color="#cf4c74"/><stop offset="0.7104" stop-color="#d8576b"/><stop offset="0.7231" stop-color="#dc5d67"/><stop offset="0.7294" stop-color="#d9586a"/><stop offset="0.7358" stop-color="#dc5d67"/><stop offset="0.7421" stop-color="#e26660"/><stop offset="0.7801" stop-color="#ed7a52"/><stop offset="0.7927" stop-color="#f07f4f"/><stop offset="0.7991" stop-color="#ef7e50"/><stop offset="0.8117" stop-color="#f3874a"/><stop offset="0.8497" stop-color="#f79044"/><stop offset="0.8687" stop-color="#f68f44"/><stop offset="0.9066" stop-color="#f89441"/><stop offset="0.9446" stop-color="#f89540"/><stop offset="0.9699" stop-color="#f9973f"/><stop offset="0.9826" stop-color="#fba238"/><stop offset="0.9889" stop-color="#fdaf31"/><stop offset="0.9984" stop-color="#feb82c"/></linearGradient><linearGradient id="cb" x1="0" y1="0" x2="0" y2="1"><stop offset="0.000" stop-color="#f0f921"/><stop offset="0.031" stop-color="#f4ed27"/><stop offset="0.062" stop-color="#f8df25"/><stop offset="0.094" stop-color="#fcd225"/><stop offset="0.125" stop-color="#fdc527"/><stop offset="0.156" stop-color="#feb82c"/><stop offset="0.188" stop-color="#fdac33"/><stop offset="0.219" stop-color="#fba139"/><stop offset="0.250" stop-color="#f89540"/><stop offset="0.281" stop-color="#f58b47"/><stop offset="0.312" stop-color="#f0804e"/><stop offset="0.344" stop-color="#eb7655"/><stop offset="0.375" stop-color="#e66c5c"/><stop offset="0.406" stop-color="#e06363"/><stop offset="0.438" stop-color="#da5a6a"/><stop offset="0.469" stop-color="#d35171"/><stop offset="0.500" stop-color="#cc4778"/><stop offset="0.531" stop-color="#c43e7f"/><stop offset="0.562" stop-color="#bc3587"/><stop offset="0.594" stop-color="#b32c8e"/><stop offset="0.625" stop-color="#aa2395"/><stop offset="0.656" stop-color="#a01a9c"/><stop offset="0.688" stop-color="#9511a1"/><stop offset="0.719" stop-color="#8a09a5"/><stop offset="0.750" stop-color="#7e03a8"/><stop offset="0.781" stop-color="#7201a8"/><stop offset="0.812" stop-color="#6600a7"/><stop offset="0.844" stop-color="#5901a5"/><stop offset="0.875" stop-color="#4c02a1"/><stop offset="0.906" stop-color="#3f049c"/><stop offset="0.938" stop-color="#310597"/><stop offset="0.969" stop-color="#220690"/><stop offset="1.000" stop-color="#0d0887"/></linearGradient><filter id="nz" x="0" y="0" width="100%" height="100%" color-interpolation-filters="sRGB"><feTurbulence type="fractalNoise" baseFrequency="0.5 0.7" numOctaves="1" seed="11"/><feColorMatrix type="matrix" values="1.6 0 0 0 -0.3  1.6 0 0 0 -0.3  1.6 0 0 0 -0.3  0 0 0 0 1"/></filter><filter id="vs" x="0" y="0" width="100%" height="100%" color-interpolation-filters="sRGB"><feTurbulence type="fractalNoise" baseFrequency="0.24 0.006" numOctaves="2" seed="5"/><feColorMatrix type="matrix" values="2.2 0 0 0 -0.6  2.2 0 0 0 -0.6  2.2 0 0 0 -0.6  0 0 0 0 1"/></filter><linearGradient id="mg" x1="0" y1="0" x2="0" y2="1"><stop offset="0" stop-color="#000"/><stop offset="0.16" stop-color="#fff"/><stop offset="1" stop-color="#fff"/></linearGradient><mask id="mk" maskUnits="userSpaceOnUse" x="121" y="130" width="713" height="220"><rect x="121" y="130" width="713" height="220" fill="url(#mg)"/></mask></defs>
<rect width="1024" height="418" fill="#fff"/>
<g shape-rendering="crispEdges"><rect x="92" y="34.2" width="4.6" height="315.8" fill="url(#g0)"/><rect x="96" y="34.2" width="1.6" height="315.8" fill="url(#g1)"/><rect x="97" y="34.2" width="1.6" height="315.8" fill="url(#g2)"/><rect x="98" y="34.2" width="1.6" height="315.8" fill="url(#g3)"/><rect x="99" y="34.2" width="1.6" height="315.8" fill="url(#g4)"/><rect x="100" y="34.2" width="1.6" height="315.8" fill="url(#g5)"/><rect x="101" y="34.2" width="1.6" height="315.8" fill="url(#g6)"/><rect x="102" y="34.2" width="1.6" height="315.8" fill="url(#g7)"/><rect x="103" y="34.2" width="1.6" height="315.8" fill="url(#g8)"/><rect x="104" y="34.2" width="1.6" height="315.8" fill="url(#g9)"/><rect x="105" y="34.2" width="1.6" height="315.8" fill="url(#g10)"/><rect x="106" y="34.2" width="1.6" height="315.8" fill="url(#g11)"/><rect x="107" y="34.2" width="1.6" height="315.8" fill="url(#g12)"/><rect x="108" y="34.2" width="1.6" height="315.8" fill="url(#g13)"/><rect x="109" y="34.2" width="1.6" height="315.8" fill="url(#g14)"/><rect x="110" y="34.2" width="1.6" height="315.8" fill="url(#g15)"/><rect x="111" y="34.2" width="1.6" height="315.8" fill="url(#g16)"/><rect x="112" y="34.2" width="1.6" height="315.8" fill="url(#g17)"/><rect x="113" y="34.2" width="1.6" height="315.8" fill="url(#g18)"/><rect x="114" y="34.2" width="1.6" height="315.8" fill="url(#g19)"/><rect x="115" y="34.2" width="1.6" height="315.8" fill="url(#g20)"/><rect x="116" y="34.2" width="1.6" height="315.8" fill="url(#g21)"/><rect x="117" y="34.2" width="1.6" height="315.8" fill="url(#g22)"/><rect x="118" y="34.2" width="1.6" height="315.8" fill="url(#g23)"/><rect x="119" y="34.2" width="1.6" height="315.8" fill="url(#g24)"/><rect x="120" y="34.2" width="1.6" height="315.8" fill="url(#g25)"/><rect x="121" y="34.2" width="1.6" height="315.8" fill="url(#g26)"/><rect x="122" y="34.2" width="1.6" height="315.8" fill="url(#g27)"/><rect x="123" y="34.2" width="1.6" height="315.8" fill="url(#g28)"/><rect x="124" y="34.2" width="1.6" height="315.8" fill="url(#g29)"/><rect x="125" y="34.2" width="2.6" height="315.8" fill="url(#g30)"/><rect x="127" y="34.2" width="1.6" height="315.8" fill="url(#g31)"/><rect x="128" y="34.2" width="1.6" height="315.8" fill="url(#g32)"/><rect x="129" y="34.2" width="1.6" height="315.8" fill="url(#g33)"/><rect x="130" y="34.2" width="2.6" height="315.8" fill="url(#g34)"/><rect x="132" y="34.2" width="1.6" height="315.8" fill="url(#g33)"/><rect x="133" y="34.2" width="1.6" height="315.8" fill="url(#g32)"/><rect x="134" y="34.2" width="1.6" height="315.8" fill="url(#g30)"/><rect x="135" y="34.2" width="2.6" height="315.8" fill="url(#g29)"/><rect x="137" y="34.2" width="4.6" height="315.8" fill="url(#g30)"/><rect x="141" y="34.2" width="1.6" height="315.8" fill="url(#g35)"/><rect x="142" y="34.2" width="1.6" height="315.8" fill="url(#g33)"/><rect x="143" y="34.2" width="1.6" height="315.8" fill="url(#g34)"/><rect x="144" y="34.2" width="1.6" height="315.8" fill="url(#g36)"/><rect x="145" y="34.2" width="1.6" height="315.8" fill="url(#g37)"/><rect x="146" y="34.2" width="1.6" height="315.8" fill="url(#g38)"/><rect x="147" y="34.2" width="1.6" height="315.8" fill="url(#g31)"/><rect x="148" y="34.2" width="1.6" height="315.8" fill="url(#g29)"/><rect x="149" y="34.2" width="11.6" height="315.8" fill="url(#g39)"/><rect x="160" y="34.2" width="6.6" height="315.8" fill="url(#g29)"/><rect x="166" y="34.2" width="3.6" height="315.8" fill="url(#g30)"/><rect x="169" y="34.2" width="1.6" height="315.8" fill="url(#g35)"/><rect x="170" y="34.2" width="1.6" height="315.8" fill="url(#g38)"/><rect x="171" y="34.2" width="1.6" height="315.8" fill="url(#g37)"/><rect x="172" y="34.2" width="1.6" height="315.8" fill="url(#g34)"/><rect x="173" y="34.2" width="1.6" height="315.8" fill="url(#g37)"/><rect x="174" y="34.2" width="1.6" height="315.8" fill="url(#g38)"/><rect x="175" y="34.2" width="1.6" height="315.8" fill="url(#g35)"/><rect x="176" y="34.2" width="4.6" height="315.8" fill="url(#g30)"/><rect x="180" y="34.2" width="1.6" height="315.8" fill="url(#g31)"/><rect x="181" y="34.2" width="1.6" height="315.8" fill="url(#g38)"/><rect x="182" y="34.2" width="1.6" height="315.8" fill="url(#g34)"/><rect x="183" y="34.2" width="1.6" height="315.8" fill="url(#g40)"/><rect x="184" y="34.2" width="1.6" height="315.8" fill="url(#g41)"/><rect x="185" y="34.2" width="1.6" height="315.8" fill="url(#g36)"/><rect x="186" y="34.2" width="1.6" height="315.8" fill="url(#g42)"/><rect x="187" y="34.2" width="1.6" height="315.8" fill="url(#g35)"/><rect x="188" y="34.2" width="1.6" height="315.8" fill="url(#g29)"/><rect x="189" y="34.2" width="9.6" height="315.8" fill="url(#g39)"/><rect x="198" y="34.2" width="6.6" height="315.8" fill="url(#g29)"/><rect x="204" y="34.2" width="4.6" height="315.8" fill="url(#g30)"/><rect x="208" y="34.2" width="1.6" height="315.8" fill="url(#g35)"/><rect x="209" y="34.2" width="1.6" height="315.8" fill="url(#g42)"/><rect x="210" y="34.2" width="1.6" height="315.8" fill="url(#g36)"/><rect x="211" y="34.2" width="1.6" height="315.8" fill="url(#g43)"/><rect x="212" y="34.2" width="1.6" height="315.8" fill="url(#g36)"/><rect x="213" y="34.2" width="1.6" height="315.8" fill="url(#g42)"/><rect x="214" y="34.2" width="1.6" height="315.8" fill="url(#g35)"/><rect x="215" y="34.2" width="6.6" height="315.8" fill="url(#g30)"/><rect x="221" y="34.2" width="1.6" height="315.8" fill="url(#g31)"/><rect x="222" y="34.2" width="1.6" height="315.8" fill="url(#g32)"/><rect x="223" y="34.2" width="1.6" height="315.8" fill="url(#g37)"/><rect x="224" y="34.2" width="1.6" height="315.8" fill="url(#g40)"/><rect x="225" y="34.2" width="1.6" height="315.8" fill="url(#g44)"/><rect x="226" y="34.2" width="1.6" height="315.8" fill="url(#g41)"/><rect x="227" y="34.2" width="1.6" height="315.8" fill="url(#g34)"/><rect x="228" y="34.2" width="1.6" height="315.8" fill="url(#g32)"/><rect x="229" y="34.2" width="1.6" height="315.8" fill="url(#g30)"/><rect x="230" y="34.2" width="1.6" height="315.8" fill="url(#g29)"/><rect x="231" y="34.2" width="13.6" height="315.8" fill="url(#g39)"/><rect x="244" y="34.2" width="6.6" height="315.8" fill="url(#g29)"/><rect x="250" y="34.2" width="3.6" height="315.8" fill="url(#g30)"/><rect x="253" y="34.2" width="1.6" height="315.8" fill="url(#g35)"/><rect x="254" y="34.2" width="1.6" height="315.8" fill="url(#g42)"/><rect x="255" y="34.2" width="2.6" height="315.8" fill="url(#g34)"/><rect x="257" y="34.2" width="1.6" height="315.8" fill="url(#g37)"/><rect x="258" y="34.2" width="1.6" height="315.8" fill="url(#g38)"/><rect x="259" y="34.2" width="1.6" height="315.8" fill="url(#g31)"/><rect x="260" y="34.2" width="5.6" height="315.8" fill="url(#g30)"/><rect x="265" y="34.2" width="2.6" height="315.8" fill="url(#g31)"/><rect x="267" y="34.2" width="1.6" height="315.8" fill="url(#g38)"/><rect x="268" y="34.2" width="1.6" height="315.8" fill="url(#g36)"/><rect x="269" y="34.2" width="1.6" height="315.8" fill="url(#g44)"/><rect x="270" y="34.2" width="1.6" height="315.8" fill="url(#g45)"/><rect x="271" y="34.2" width="1.6" height="315.8" fill="url(#g40)"/><rect x="272" y="34.2" width="1.6" height="315.8" fill="url(#g37)"/><rect x="273" y="34.2" width="1.6" height="315.8" fill="url(#g32)"/><rect x="274" y="34.2" width="1.6" height="315.8" fill="url(#g30)"/><rect x="275" y="34.2" width="1.6" height="315.8" fill="url(#g29)"/><rect x="276" y="34.2" width="13.6" height="315.8" fill="url(#g39)"/><rect x="289" y="34.2" width="6.6" height="315.8" fill="url(#g29)"/><rect x="295" y="34.2" width="3.6" height="315.8" fill="url(#g30)"/><rect x="298" y="34.2" width="1.6" height="315.8" fill="url(#g35)"/><rect x="299" y="34.2" width="1.6" height="315.8" fill="url(#g42)"/><rect x="300" y="34.2" width="1.6" height="315.8" fill="url(#g34)"/><rect x="301" y="34.2" width="1.6" height="315.8" fill="url(#g36)"/><rect x="302" y="34.2" width="1.6" height="315.8" fill="url(#g34)"/><rect x="303" y="34.2" width="1.6" height="315.8" fill="url(#g42)"/><rect x="304" y="34.2" width="1.6" height="315.8" fill="url(#g35)"/><rect x="305" y="34.2" width="2.6" height="315.8" fill="url(#g30)"/><rect x="307" y="34.2" width="2.6" height="315.8" fill="url(#g31)"/><rect x="309" y="34.2" width="1.6" height="315.8" fill="url(#g35)"/><rect x="310" y="34.2" width="1.6" height="315.8" fill="url(#g42)"/><rect x="311" y="34.2" width="1.6" height="315.8" fill="url(#g36)"/><rect x="312" y="34.2" width="1.6" height="315.8" fill="url(#g45)"/><rect x="313" y="34.2" width="1.6" height="315.8" fill="url(#g46)"/><rect x="314" y="34.2" width="1.6" height="315.8" fill="url(#g41)"/><rect x="315" y="34.2" width="1.6" height="315.8" fill="url(#g37)"/><rect x="316" y="34.2" width="1.6" height="315.8" fill="url(#g32)"/><rect x="317" y="34.2" width="1.6" height="315.8" fill="url(#g30)"/><rect x="318" y="34.2" width="1.6" height="315.8" fill="url(#g29)"/><rect x="319" y="34.2" width="22.6" height="315.8" fill="url(#g39)"/><rect x="341" y="34.2" width="4.6" height="315.8" fill="url(#g29)"/><rect x="345" y="34.2" width="4.6" height="315.8" fill="url(#g30)"/><rect x="349" y="34.2" width="2.6" height="315.8" fill="url(#g31)"/><rect x="351" y="34.2" width="1.6" height="315.8" fill="url(#g32)"/><rect x="352" y="34.2" width="1.6" height="315.8" fill="url(#g37)"/><rect x="353" y="34.2" width="1.6" height="315.8" fill="url(#g40)"/><rect x="354" y="34.2" width="1.6" height="315.8" fill="url(#g45)"/><rect x="355" y="34.2" width="1.6" height="315.8" fill="url(#g44)"/><rect x="356" y="34.2" width="1.6" height="315.8" fill="url(#g36)"/><rect x="357" y="34.2" width="1.6" height="315.8" fill="url(#g38)"/><rect x="358" y="34.2" width="1.6" height="315.8" fill="url(#g31)"/><rect x="359" y="34.2" width="2.6" height="315.8" fill="url(#g30)"/><rect x="361" y="34.2" width="2.6" height="315.8" fill="url(#g31)"/><rect x="363" y="34.2" width="1.6" height="315.8" fill="url(#g35)"/><rect x="364" y="34.2" width="1.6" height="315.8" fill="url(#g42)"/><rect x="365" y="34.2" width="1.6" height="315.8" fill="url(#g43)"/><rect x="366" y="34.2" width="1.6" height="315.8" fill="url(#g45)"/><rect x="367" y="34.2" width="1.6" height="315.8" fill="url(#g46)"/><rect x="368" y="34.2" width="1.6" height="315.8" fill="url(#g41)"/><rect x="369" y="34.2" width="1.6" height="315.8" fill="url(#g37)"/><rect x="370" y="34.2" width="1.6" height="315.8" fill="url(#g35)"/><rect x="371" y="34.2" width="1.6" height="315.8" fill="url(#g30)"/><rect x="372" y="34.2" width="1.6" height="315.8" fill="url(#g29)"/><rect x="373" y="34.2" width="10.6" height="315.8" fill="url(#g39)"/><rect x="383" y="34.2" width="7.6" height="315.8" fill="url(#g29)"/><rect x="390" y="34.2" width="3.6" height="315.8" fill="url(#g30)"/><rect x="393" y="34.2" width="1.6" height="315.8" fill="url(#g32)"/><rect x="394" y="34.2" width="1.6" height="315.8" fill="url(#g33)"/><rect x="395" y="34.2" width="2.6" height="315.8" fill="url(#g34)"/><rect x="397" y="34.2" width="1.6" height="315.8" fill="url(#g33)"/><rect x="398" y="34.2" width="1.6" height="315.8" fill="url(#g32)"/><rect x="399" y="34.2" width="1.6" height="315.8" fill="url(#g31)"/><rect x="400" y="34.2" width="2.6" height="315.8" fill="url(#g30)"/><rect x="402" y="34.2" width="2.6" height="315.8" fill="url(#g31)"/><rect x="404" y="34.2" width="1.6" height="315.8" fill="url(#g32)"/><rect x="405" y="34.2" width="1.6" height="315.8" fill="url(#g37)"/><rect x="406" y="34.2" width="1.6" height="315.8" fill="url(#g41)"/><rect x="407" y="34.2" width="1.6" height="315.8" fill="url(#g46)"/><rect x="408" y="34.2" width="1.6" height="315.8" fill="url(#g45)"/><rect x="409" y="34.2" width="1.6" height="315.8" fill="url(#g43)"/><rect x="410" y="34.2" width="1.6" height="315.8" fill="url(#g42)"/><rect x="411" y="34.2" width="1.6" height="315.8" fill="url(#g31)"/><rect x="412" y="34.2" width="1.6" height="315.8" fill="url(#g29)"/><rect x="413" y="34.2" width="14.6" height="315.8" fill="url(#g39)"/><rect x="427" y="34.2" width="8.6" height="315.8" fill="url(#g29)"/><rect x="435" y="34.2" width="1.6" height="315.8" fill="url(#g30)"/><rect x="436" y="34.2" width="1.6" height="315.8" fill="url(#g35)"/><rect x="437" y="34.2" width="1.6" height="315.8" fill="url(#g38)"/><rect x="438" y="34.2" width="2.6" height="315.8" fill="url(#g33)"/><rect x="440" y="34.2" width="1.6" height="315.8" fill="url(#g38)"/><rect x="441" y="34.2" width="1.6" height="315.8" fill="url(#g35)"/><rect x="442" y="34.2" width="4.6" height="315.8" fill="url(#g30)"/><rect x="446" y="34.2" width="2.6" height="315.8" fill="url(#g31)"/><rect x="448" y="34.2" width="1.6" height="315.8" fill="url(#g35)"/><rect x="449" y="34.2" width="1.6" height="315.8" fill="url(#g42)"/><rect x="450" y="34.2" width="1.6" height="315.8" fill="url(#g43)"/><rect x="451" y="34.2" width="1.6" height="315.8" fill="url(#g45)"/><rect x="452" y="34.2" width="1.6" height="315.8" fill="url(#g47)"/><rect x="453" y="34.2" width="1.6" height="315.8" fill="url(#g44)"/><rect x="454" y="34.2" width="1.6" height="315.8" fill="url(#g34)"/><rect x="455" y="34.2" width="1.6" height="315.8" fill="url(#g32)"/><rect x="456" y="34.2" width="1.6" height="315.8" fill="url(#g30)"/><rect x="457" y="34.2" width="1.6" height="315.8" fill="url(#g29)"/><rect x="458" y="34.2" width="13.6" height="315.8" fill="url(#g39)"/><rect x="471" y="34.2" width="6.6" height="315.8" fill="url(#g29)"/><rect x="477" y="34.2" width="4.6" height="315.8" fill="url(#g30)"/><rect x="481" y="34.2" width="1.6" height="315.8" fill="url(#g35)"/><rect x="482" y="34.2" width="1.6" height="315.8" fill="url(#g42)"/><rect x="483" y="34.2" width="1.6" height="315.8" fill="url(#g34)"/><rect x="484" y="34.2" width="1.6" height="315.8" fill="url(#g36)"/><rect x="485" y="34.2" width="1.6" height="315.8" fill="url(#g34)"/><rect x="486" y="34.2" width="1.6" height="315.8" fill="url(#g42)"/><rect x="487" y="34.2" width="1.6" height="315.8" fill="url(#g35)"/><rect x="488" y="34.2" width="2.6" height="315.8" fill="url(#g30)"/><rect x="490" y="34.2" width="2.6" height="315.8" fill="url(#g31)"/><rect x="492" y="34.2" width="1.6" height="315.8" fill="url(#g35)"/><rect x="493" y="34.2" width="1.6" height="315.8" fill="url(#g33)"/><rect x="494" y="34.2" width="1.6" height="315.8" fill="url(#g40)"/><rect x="495" y="34.2" width="2.6" height="315.8" fill="url(#g46)"/><rect x="497" y="34.2" width="1.6" height="315.8" fill="url(#g41)"/><rect x="498" y="34.2" width="1.6" height="315.8" fill="url(#g37)"/><rect x="499" y="34.2" width="1.6" height="315.8" fill="url(#g35)"/><rect x="500" y="34.2" width="1.6" height="315.8" fill="url(#g30)"/><rect x="501" y="34.2" width="1.6" height="315.8" fill="url(#g29)"/><rect x="502" y="34.2" width="8.6" height="315.8" fill="url(#g39)"/><rect x="510" y="34.2" width="6.6" height="315.8" fill="url(#g29)"/><rect x="516" y="34.2" width="4.6" height="315.8" fill="url(#g30)"/><rect x="520" y="34.2" width="1.6" height="315.8" fill="url(#g35)"/><rect x="521" y="34.2" width="1.6" height="315.8" fill="url(#g42)"/><rect x="522" y="34.2" width="1.6" height="315.8" fill="url(#g34)"/><rect x="523" y="34.2" width="1.6" height="315.8" fill="url(#g36)"/><rect x="524" y="34.2" width="1.6" height="315.8" fill="url(#g34)"/><rect x="525" y="34.2" width="1.6" height="315.8" fill="url(#g42)"/><rect x="526" y="34.2" width="1.6" height="315.8" fill="url(#g35)"/><rect x="527" y="34.2" width="2.6" height="315.8" fill="url(#g30)"/><rect x="529" y="34.2" width="3.6" height="315.8" fill="url(#g31)"/><rect x="532" y="34.2" width="1.6" height="315.8" fill="url(#g32)"/><rect x="533" y="34.2" width="1.6" height="315.8" fill="url(#g37)"/><rect x="534" y="34.2" width="1.6" height="315.8" fill="url(#g41)"/><rect x="535" y="34.2" width="2.6" height="315.8" fill="url(#g47)"/><rect x="537" y="34.2" width="1.6" height="315.8" fill="url(#g41)"/><rect x="538" y="34.2" width="1.6" height="315.8" fill="url(#g37)"/><rect x="539" y="34.2" width="1.6" height="315.8" fill="url(#g35)"/><rect x="540" y="34.2" width="1.6" height="315.8" fill="url(#g30)"/><rect x="541" y="34.2" width="33.6" height="315.8" fill="url(#g39)"/><rect x="574" y="34.2" width="4.6" height="315.8" fill="url(#g29)"/><rect x="578" y="34.2" width="4.6" height="315.8" fill="url(#g30)"/><rect x="582" y="34.2" width="2.6" height="315.8" fill="url(#g31)"/><rect x="584" y="34.2" width="1.6" height="315.8" fill="url(#g35)"/><rect x="585" y="34.2" width="1.6" height="315.8" fill="url(#g42)"/><rect x="586" y="34.2" width="1.6" height="315.8" fill="url(#g43)"/><rect x="587" y="34.2" width="1.6" height="315.8" fill="url(#g45)"/><rect x="588" y="34.2" width="1.6" height="315.8" fill="url(#g47)"/><rect x="589" y="34.2" width="1.6" height="315.8" fill="url(#g44)"/><rect x="590" y="34.2" width="1.6" height="315.8" fill="url(#g34)"/><rect x="591" y="34.2" width="1.6" height="315.8" fill="url(#g32)"/><rect x="592" y="34.2" width="1.6" height="315.8" fill="url(#g30)"/><rect x="593" y="34.2" width="1.6" height="315.8" fill="url(#g29)"/><rect x="594" y="34.2" width="13.6" height="315.8" fill="url(#g39)"/><rect x="607" y="34.2" width="7.6" height="315.8" fill="url(#g29)"/><rect x="614" y="34.2" width="1.6" height="315.8" fill="url(#g30)"/><rect x="615" y="34.2" width="1.6" height="315.8" fill="url(#g35)"/><rect x="616" y="34.2" width="1.6" height="315.8" fill="url(#g38)"/><rect x="617" y="34.2" width="1.6" height="315.8" fill="url(#g42)"/><rect x="618" y="34.2" width="1.6" height="315.8" fill="url(#g38)"/><rect x="619" y="34.2" width="1.6" height="315.8" fill="url(#g35)"/><rect x="620" y="34.2" width="3.6" height="315.8" fill="url(#g31)"/><rect x="623" y="34.2" width="1.6" height="315.8" fill="url(#g35)"/><rect x="624" y="34.2" width="1.6" height="315.8" fill="url(#g33)"/><rect x="625" y="34.2" width="1.6" height="315.8" fill="url(#g40)"/><rect x="626" y="34.2" width="1.6" height="315.8" fill="url(#g46)"/><rect x="627" y="34.2" width="1.6" height="315.8" fill="url(#g45)"/><rect x="628" y="34.2" width="1.6" height="315.8" fill="url(#g43)"/><rect x="629" y="34.2" width="1.6" height="315.8" fill="url(#g42)"/><rect x="630" y="34.2" width="1.6" height="315.8" fill="url(#g31)"/><rect x="631" y="34.2" width="1.6" height="315.8" fill="url(#g29)"/><rect x="632" y="34.2" width="12.6" height="315.8" fill="url(#g39)"/><rect x="644" y="34.2" width="7.6" height="315.8" fill="url(#g29)"/><rect x="651" y="34.2" width="2.6" height="315.8" fill="url(#g30)"/><rect x="653" y="34.2" width="1.6" height="315.8" fill="url(#g31)"/><rect x="654" y="34.2" width="1.6" height="315.8" fill="url(#g38)"/><rect x="655" y="34.2" width="1.6" height="315.8" fill="url(#g37)"/><rect x="656" y="34.2" width="1.6" height="315.8" fill="url(#g34)"/><rect x="657" y="34.2" width="1.6" height="315.8" fill="url(#g37)"/><rect x="658" y="34.2" width="1.6" height="315.8" fill="url(#g42)"/><rect x="659" y="34.2" width="1.6" height="315.8" fill="url(#g35)"/><rect x="660" y="34.2" width="2.6" height="315.8" fill="url(#g30)"/><rect x="662" y="34.2" width="2.6" height="315.8" fill="url(#g31)"/><rect x="664" y="34.2" width="1.6" height="315.8" fill="url(#g35)"/><rect x="665" y="34.2" width="1.6" height="315.8" fill="url(#g42)"/><rect x="666" y="34.2" width="1.6" height="315.8" fill="url(#g36)"/><rect x="667" y="34.2" width="1.6" height="315.8" fill="url(#g45)"/><rect x="668" y="34.2" width="1.6" height="315.8" fill="url(#g46)"/><rect x="669" y="34.2" width="1.6" height="315.8" fill="url(#g41)"/><rect x="670" y="34.2" width="1.6" height="315.8" fill="url(#g37)"/><rect x="671" y="34.2" width="1.6" height="315.8" fill="url(#g32)"/><rect x="672" y="34.2" width="1.6" height="315.8" fill="url(#g30)"/><rect x="673" y="34.2" width="1.6" height="315.8" fill="url(#g29)"/><rect x="674" y="34.2" width="11.6" height="315.8" fill="url(#g39)"/><rect x="685" y="34.2" width="6.6" height="315.8" fill="url(#g29)"/><rect x="691" y="34.2" width="3.6" height="315.8" fill="url(#g30)"/><rect x="694" y="34.2" width="1.6" height="315.8" fill="url(#g35)"/><rect x="695" y="34.2" width="1.6" height="315.8" fill="url(#g42)"/><rect x="696" y="34.2" width="2.6" height="315.8" fill="url(#g34)"/><rect x="698" y="34.2" width="1.6" height="315.8" fill="url(#g33)"/><rect x="699" y="34.2" width="1.6" height="315.8" fill="url(#g32)"/><rect x="700" y="34.2" width="1.6" height="315.8" fill="url(#g31)"/><rect x="701" y="34.2" width="5.6" height="315.8" fill="url(#g30)"/><rect x="706" y="34.2" width="2.6" height="315.8" fill="url(#g31)"/><rect x="708" y="34.2" width="1.6" height="315.8" fill="url(#g38)"/><rect x="709" y="34.2" width="1.6" height="315.8" fill="url(#g34)"/><rect x="710" y="34.2" width="1.6" height="315.8" fill="url(#g41)"/><rect x="711" y="34.2" width="1.6" height="315.8" fill="url(#g44)"/><rect x="712" y="34.2" width="1.6" height="315.8" fill="url(#g43)"/><rect x="713" y="34.2" width="1.6" height="315.8" fill="url(#g33)"/><rect x="714" y="34.2" width="1.6" height="315.8" fill="url(#g35)"/><rect x="715" y="34.2" width="1.6" height="315.8" fill="url(#g30)"/><rect x="716" y="34.2" width="1.6" height="315.8" fill="url(#g29)"/><rect x="717" y="34.2" width="14.6" height="315.8" fill="url(#g39)"/><rect x="731" y="34.2" width="7.6" height="315.8" fill="url(#g29)"/><rect x="738" y="34.2" width="1.6" height="315.8" fill="url(#g31)"/><rect x="739" y="34.2" width="1.6" height="315.8" fill="url(#g35)"/><rect x="740" y="34.2" width="2.6" height="315.8" fill="url(#g32)"/><rect x="742" y="34.2" width="1.6" height="315.8" fill="url(#g35)"/><rect x="743" y="34.2" width="1.6" height="315.8" fill="url(#g31)"/><rect x="744" y="34.2" width="2.6" height="315.8" fill="url(#g30)"/><rect x="746" y="34.2" width="1.6" height="315.8" fill="url(#g35)"/><rect x="747" y="34.2" width="1.6" height="315.8" fill="url(#g38)"/><rect x="748" y="34.2" width="1.6" height="315.8" fill="url(#g37)"/><rect x="749" y="34.2" width="1.6" height="315.8" fill="url(#g34)"/><rect x="750" y="34.2" width="1.6" height="315.8" fill="url(#g37)"/><rect x="751" y="34.2" width="1.6" height="315.8" fill="url(#g38)"/><rect x="752" y="34.2" width="1.6" height="315.8" fill="url(#g31)"/><rect x="753" y="34.2" width="1.6" height="315.8" fill="url(#g29)"/><rect x="754" y="34.2" width="25.6" height="315.8" fill="url(#g39)"/><rect x="779" y="34.2" width="7.6" height="315.8" fill="url(#g29)"/><rect x="786" y="34.2" width="2.6" height="315.8" fill="url(#g30)"/><rect x="788" y="34.2" width="1.6" height="315.8" fill="url(#g35)"/><rect x="789" y="34.2" width="1.6" height="315.8" fill="url(#g42)"/><rect x="790" y="34.2" width="2.6" height="315.8" fill="url(#g37)"/><rect x="792" y="34.2" width="1.6" height="315.8" fill="url(#g42)"/><rect x="793" y="34.2" width="1.6" height="315.8" fill="url(#g35)"/><rect x="794" y="34.2" width="5.6" height="315.8" fill="url(#g30)"/><rect x="799" y="34.2" width="1.6" height="315.8" fill="url(#g31)"/><rect x="800" y="34.2" width="1.6" height="315.8" fill="url(#g38)"/><rect x="801" y="34.2" width="1.6" height="315.8" fill="url(#g34)"/><rect x="802" y="34.2" width="1.6" height="315.8" fill="url(#g41)"/><rect x="803" y="34.2" width="1.6" height="315.8" fill="url(#g44)"/><rect x="804" y="34.2" width="1.6" height="315.8" fill="url(#g40)"/><rect x="805" y="34.2" width="1.6" height="315.8" fill="url(#g37)"/><rect x="806" y="34.2" width="1.6" height="315.8" fill="url(#g32)"/><rect x="807" y="34.2" width="1.6" height="315.8" fill="url(#g30)"/><rect x="808" y="34.2" width="1.6" height="315.8" fill="url(#g29)"/><rect x="809" y="34.2" width="25" height="315.8" fill="url(#g39)"/></g>
<g style="mix-blend-mode:soft-light" opacity="0.13" mask="url(#mk)"><rect x="121" y="130" width="713" height="220" fill="#808080" filter="url(#vs)"/></g>
<rect x="92" y="34.2" width="742" height="315.8" fill="#808080" filter="url(#nz)" style="mix-blend-mode:soft-light" opacity="0.13"/>
<g stroke="#b8b8b8" stroke-opacity="0.58" stroke-width="0.8" stroke-dasharray="2.75 1.3" fill="none"><line x1="241.4" x2="241.4" y1="34.2" y2="350"/><line x1="390.1" x2="390.1" y1="34.2" y2="350"/><line x1="538.4" x2="538.4" y1="34.2" y2="350"/><line x1="686.6" x2="686.6" y1="34.2" y2="350"/><line x1="97" x2="834" y1="285" y2="285"/><line x1="97" x2="834" y1="219.1" y2="219.1"/><line x1="97" x2="834" y1="153.2" y2="153.2"/><line x1="97" x2="834" y1="87.3" y2="87.3"/></g>
<g stroke="#262626" stroke-width="1.2"><line x1="241" x2="241" y1="350" y2="345"/><line x1="389.6" x2="389.6" y1="350" y2="345"/><line x1="538.2" x2="538.2" y1="350" y2="345"/><line x1="686.8" x2="686.8" y1="350" y2="345"/><line x1="92" x2="97.6" y1="284.625" y2="284.625"/><line x1="92" x2="97.6" y1="218.55" y2="218.55"/><line x1="92" x2="97.6" y1="152.475" y2="152.475"/><line x1="92" x2="97.6" y1="86.4" y2="86.4"/></g>
<line x1="93.1" x2="93.1" y1="34.2" y2="350.6" stroke="#262626" stroke-width="1.7"/>
<line x1="92.3" x2="834" y1="349.75" y2="349.75" stroke="#262626" stroke-width="1.6"/>
<rect x="880.6" y="34.7" width="15" height="315" fill="url(#cb)" stroke="#262626" stroke-width="1.3"/>
<g stroke="#262626" stroke-width="1.2"><line x1="890.7" x2="896.2" y1="63.9" y2="63.9"/><line x1="890.7" x2="896.2" y1="106.05" y2="106.05"/><line x1="890.7" x2="896.2" y1="148.2" y2="148.2"/><line x1="890.7" x2="896.2" y1="190.35" y2="190.35"/><line x1="890.7" x2="896.2" y1="232.5" y2="232.5"/><line x1="890.7" x2="896.2" y1="274.65" y2="274.65"/><line x1="890.7" x2="896.2" y1="316.8" y2="316.8"/></g>
<g fill="#2b2b2b"><text x="463" y="25.6" font-size="20" text-anchor="middle">JJ EL84</text><text x="241" y="368.6" font-size="17.15" text-anchor="middle">2</text><text x="389.6" y="368.6" font-size="17.15" text-anchor="middle">4</text><text x="538.2" y="368.6" font-size="17.15" text-anchor="middle">6</text><text x="686.8" y="368.6" font-size="17.15" text-anchor="middle">8</text><text x="87.6" y="357.4" font-size="17.15" text-anchor="end">0</text><text x="87.6" y="292.125" font-size="17.15" text-anchor="end">5000</text><text x="87.6" y="226.05" font-size="17.15" text-anchor="end">10000</text><text x="87.6" y="159.975" font-size="17.15" text-anchor="end">15000</text><text x="87.6" y="93.9" font-size="17.15" text-anchor="end">20000</text><text x="902" y="70.4" font-size="17.15">50</text><text x="902" y="112.55" font-size="17.15">25</text><text x="902" y="154.7" font-size="17.15">0</text><text x="901.4" y="196.85" font-size="17.15">−25</text><text x="901.4" y="239" font-size="17.15">−50</text><text x="901.4" y="281.15" font-size="17.15">−75</text><text x="901.4" y="323.3" font-size="17.15">−100</text><text x="463.3" y="391.4" font-size="17.15" text-anchor="middle">Time [sec]</text><text transform="translate(22.6,192.4) rotate(-90)" font-size="17.45" text-anchor="middle">Frequency [Hz]</text><text transform="translate(966.7,192.8) rotate(-90)" font-size="17.6" text-anchor="middle">Intensity (dB)</text></g>
<text x="1013.7" y="402.3" font-size="23.2" font-weight="bold" text-anchor="end" fill="#000">© erlis-one.com</text>
</svg>
</body></html>
